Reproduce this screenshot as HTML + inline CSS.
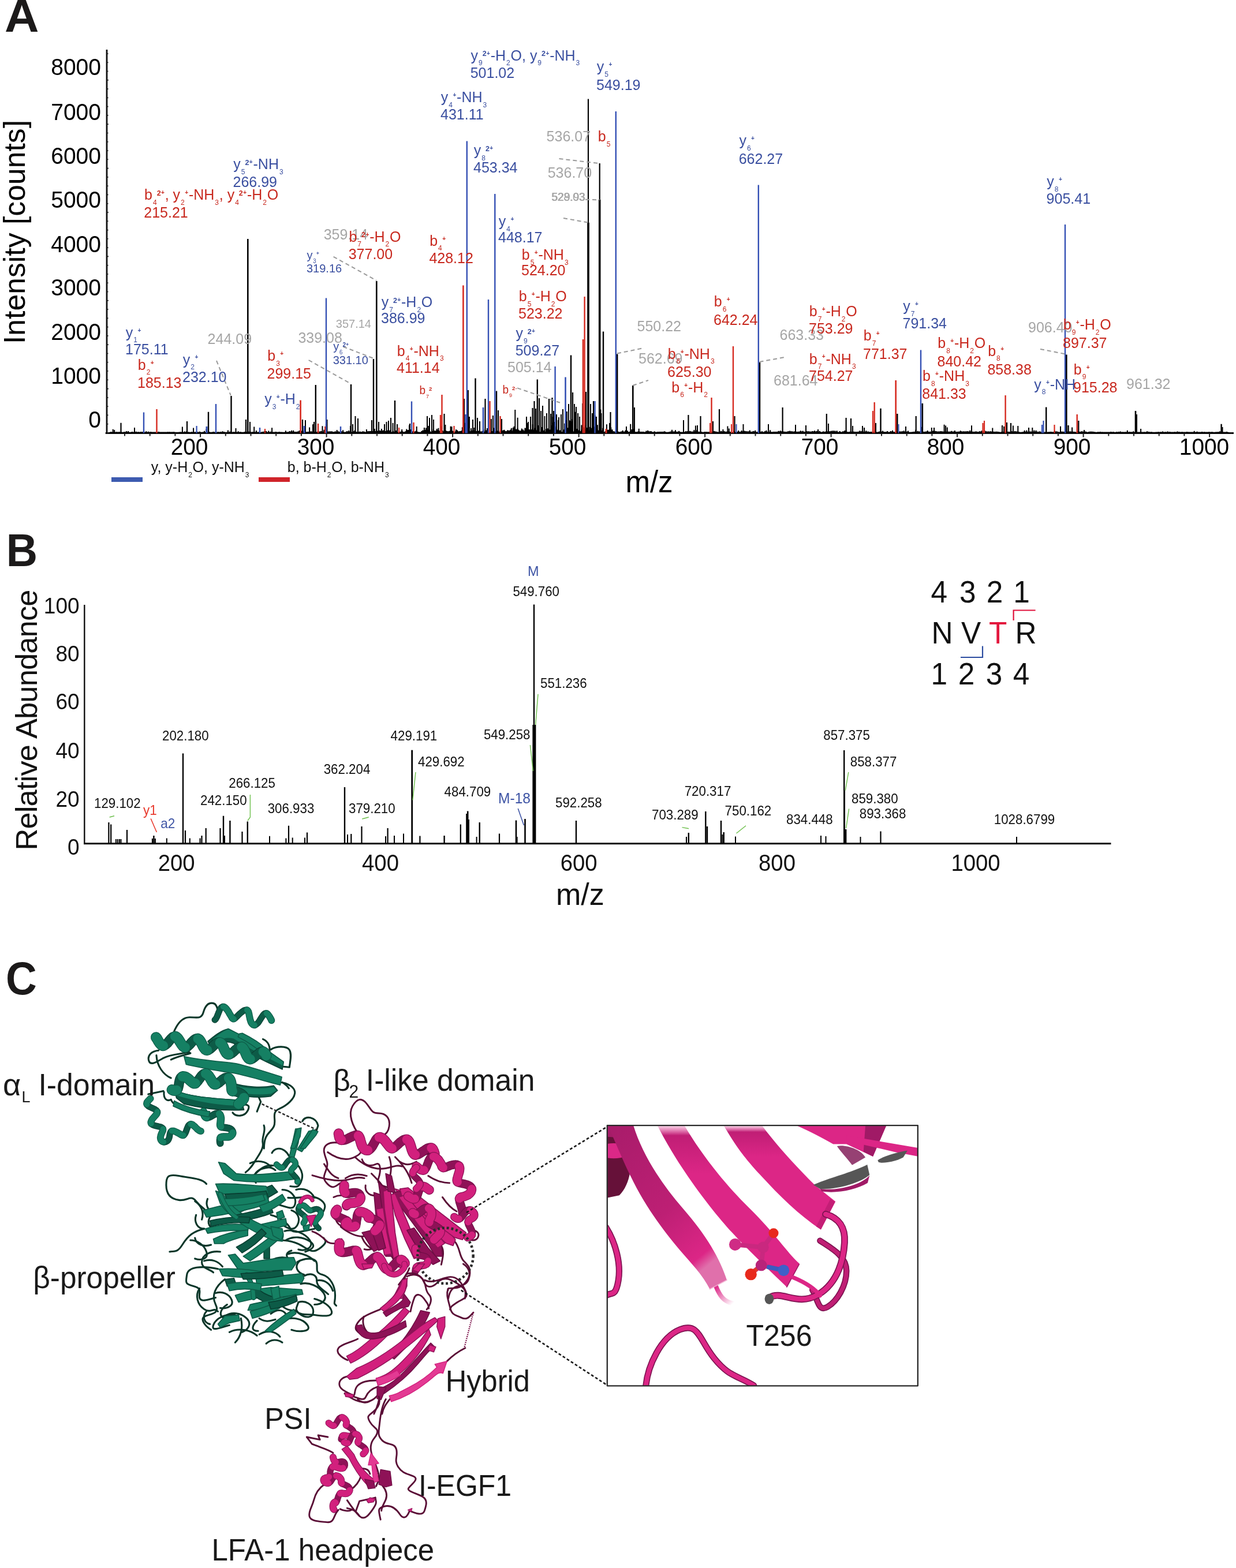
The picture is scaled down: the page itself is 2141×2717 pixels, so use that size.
<!DOCTYPE html>
<html lang="en"><head><meta charset="utf-8"><title>Figure</title>
<style>
html,body{margin:0;padding:0;background:#fff}
body{width:2141px;height:2717px;overflow:hidden}
svg{display:block;font-family:'Liberation Sans', sans-serif}
</style></head>
<body>
<svg width="2141" height="2717" viewBox="0 0 2141 2717">
<rect width="2141" height="2717" fill="#fff"/>
<g id="panelA">
<text transform="translate(7.9,55) scale(1.04,1)" fill="#1c1a1a" font-size="79.2" font-weight="bold">A</text>
<line x1="185" y1="86" x2="185" y2="752" stroke="#111" stroke-width="2.8" />
<line x1="182.7" y1="750.5" x2="2137" y2="750.5" stroke="#111" stroke-width="3" />
<text transform="translate(175,129.9) scale(0.962,1)" fill="#000" font-size="40.56" text-anchor="end" >8000</text>
<text transform="translate(175,207.9) scale(0.962,1)" fill="#000" font-size="40.56" text-anchor="end" >7000</text>
<text transform="translate(175,283.9) scale(0.962,1)" fill="#000" font-size="40.56" text-anchor="end" >6000</text>
<text transform="translate(175,360.4) scale(0.962,1)" fill="#000" font-size="40.56" text-anchor="end" >5000</text>
<text transform="translate(175,436.9) scale(0.962,1)" fill="#000" font-size="40.56" text-anchor="end" >4000</text>
<text transform="translate(175,511.9) scale(0.962,1)" fill="#000" font-size="40.56" text-anchor="end" >3000</text>
<text transform="translate(175,588.9) scale(0.962,1)" fill="#000" font-size="40.56" text-anchor="end" >2000</text>
<text transform="translate(175,664.9) scale(0.962,1)" fill="#000" font-size="40.56" text-anchor="end" >1000</text>
<text transform="translate(175,740.9) scale(0.962,1)" fill="#000" font-size="40.56" text-anchor="end" >0</text>
<path d="M186 750.0h2.0M186 734.7h1.5M186 719.4h1.5M186 704.2h1.5M186 688.9h1.5M186 673.6h2.0M186 658.3h1.5M186 643.0h1.5M186 627.8h1.5M186 612.5h1.5M186 597.2h2.0M186 581.9h1.5M186 566.6h1.5M186 551.4h1.5M186 536.1h1.5M186 520.8h2.0M186 505.5h1.5M186 490.2h1.5M186 475.0h1.5M186 459.7h1.5M186 444.4h2.0M186 429.1h1.5M186 413.8h1.5M186 398.6h1.5M186 383.3h1.5M186 368.0h2.0M186 352.7h1.5M186 337.4h1.5M186 322.2h1.5M186 306.9h1.5M186 291.6h2.0M186 276.3h1.5M186 261.0h1.5M186 245.8h1.5M186 230.5h1.5M186 215.2h2.0M186 199.9h1.5M186 184.6h1.5M186 169.4h1.5M186 154.1h1.5M186 138.8h2.0M186 123.5h1.5M186 108.2h1.5M186 93.0h1.5" stroke="#222" stroke-width="1.6" fill="none"/>
<path d="M216.0 750.5v5M259.7 750.5v5M303.4 750.5v5M347.1 750.5v7M390.8 750.5v5M434.5 750.5v5M478.2 750.5v5M521.9 750.5v5M565.6 750.5v7M609.3 750.5v5M653.0 750.5v5M696.7 750.5v5M740.4 750.5v5M784.1 750.5v7M827.8 750.5v5M871.5 750.5v5M915.2 750.5v5M958.9 750.5v5M1002.6 750.5v7M1046.3 750.5v5M1090.0 750.5v5M1133.7 750.5v5M1177.4 750.5v5M1221.1 750.5v7M1264.8 750.5v5M1308.5 750.5v5M1352.2 750.5v5M1395.9 750.5v5M1439.6 750.5v7M1483.3 750.5v5M1527.0 750.5v5M1570.7 750.5v5M1614.4 750.5v5M1658.1 750.5v7M1701.8 750.5v5M1745.5 750.5v5M1789.2 750.5v5M1832.9 750.5v5M1876.6 750.5v7M1920.3 750.5v5M1964.0 750.5v5M2007.7 750.5v5M2051.4 750.5v5M2095.1 750.5v7" stroke="#222" stroke-width="2" fill="none"/>
<text transform="translate(328,787.6) scale(0.962,1)" fill="#000" font-size="40.35" text-anchor="middle" >200</text>
<text transform="translate(547,787.6) scale(0.962,1)" fill="#000" font-size="40.35" text-anchor="middle" >300</text>
<text transform="translate(765,787.6) scale(0.962,1)" fill="#000" font-size="40.35" text-anchor="middle" >400</text>
<text transform="translate(983,787.6) scale(0.962,1)" fill="#000" font-size="40.35" text-anchor="middle" >500</text>
<text transform="translate(1202,787.6) scale(0.962,1)" fill="#000" font-size="40.35" text-anchor="middle" >600</text>
<text transform="translate(1420,787.6) scale(0.962,1)" fill="#000" font-size="40.35" text-anchor="middle" >700</text>
<text transform="translate(1638,787.6) scale(0.962,1)" fill="#000" font-size="40.35" text-anchor="middle" >800</text>
<text transform="translate(1857,787.6) scale(0.962,1)" fill="#000" font-size="40.35" text-anchor="middle" >900</text>
<text transform="translate(2086,787.6) scale(0.962,1)" fill="#000" font-size="40.35" text-anchor="middle" >1000</text>
<text transform="translate(1124.5,853) scale(0.962,1)" fill="#000" font-size="53.04" text-anchor="middle" >m/z</text>
<text transform="translate(43.3,596) rotate(-90)" font-size="51.6" textLength="388" lengthAdjust="spacing" fill="#000">Intensity [counts]</text>
<rect x="193" y="827" width="54" height="8" fill="#3d5bb0"/>
<rect x="448" y="827" width="54" height="8" fill="#d0242a"/>
<text transform="translate(261,818) scale(0.962,1)" fill="#111" font-size="26.0" ><tspan dx="0.8">y, y-H</tspan><tspan dy="8.6" dx="1.0" font-size="12.5">2</tspan><tspan dy="-8.6" dx="0.8">O, y-NH</tspan><tspan dy="8.6" dx="1.0" font-size="12.5">3</tspan></text>
<text transform="translate(497,818) scale(0.962,1)" fill="#111" font-size="26.0" ><tspan dx="0.8">b, b-H</tspan><tspan dy="8.6" dx="1.0" font-size="12.5">2</tspan><tspan dy="-8.6" dx="0.8">O, b-NH</tspan><tspan dy="8.6" dx="1.0" font-size="12.5">3</tspan></text>
<path d="M190 750.5L190.0 748.5L192.5 748.4L195.7 748.4L198.2 748.4L202.2 748.4L206.6 748.4L209.7 748.5L212.7 748.8L215.3 748.4L218.9 748.4L222.0 748.4L225.8 748.7L228.8 748.4L232.8 748.4L235.7 748.4L239.6 748.4L244.0 748.4L246.6 748.4L249.1 748.4L253.3 748.4L257.1 748.4L261.2 748.4L264.5 748.6L268.2 748.5L272.3 748.6L274.7 748.4L277.4 748.5L280.1 748.6L283.2 748.5L286.7 748.5L290.8 748.4L293.9 748.4L298.2 748.4L301.1 748.4L304.7 748.8L307.8 748.7L312.1 748.4L315.9 748.4L319.9 748.4L323.1 748.4L326.7 748.4L329.4 748.7L331.9 748.4L335.1 748.4L338.7 748.4L341.8 748.4L345.9 748.4L348.5 748.7L351.6 748.6L354.0 748.4L357.4 748.4L361.8 748.4L365.6 748.7L369.6 748.4L373.5 748.4L377.9 748.4L382.0 748.4L385.4 748.4L387.8 748.4L391.6 748.7L394.9 748.4L398.0 748.4L400.9 748.6L405.1 748.4L408.5 748.4L412.7 748.4L416.6 748.4L419.7 748.7L424.0 748.4L427.9 748.4L430.5 748.4L433.2 748.4L437.6 748.4L440.2 748.4L443.9 748.4L448.1 748.4L450.9 748.8L454.5 748.4L457.7 748.4L461.0 748.4L465.2 748.4L468.7 748.4L471.1 748.4L473.9 748.6L477.7 748.4L481.2 748.5L483.8 748.4L487.8 748.5L491.3 748.7L494.9 748.4L498.4 748.4L501.7 747.7L505.1 747.7L508.2 747.7L511.8 748.3L514.0 748.2L516.3 747.7L518.6 747.7L521.9 747.7L524.4 747.7L527.2 747.7L529.6 748.4L532.7 748.2L536.1 747.7L539.0 747.7L542.0 747.7L545.5 748.1L547.7 748.7L550.3 747.7L553.8 747.7L556.2 747.7L558.5 747.7L561.3 747.7L564.9 747.7L567.1 747.7L570.2 747.7L572.8 747.7L575.1 747.7L577.2 748.4L580.7 747.7L583.7 747.7L585.8 747.7L588.9 748.1L591.2 747.7L594.1 747.7L597.1 748.7L601.0 747.7L604.2 747.7L607.0 747.7L609.5 748.5L611.8 747.7L614.4 747.7L617.0 747.9L619.6 748.6L623.4 747.7L626.1 748.5L628.2 747.7L630.6 747.7L632.8 748.7L634.9 747.7L637.5 747.7L640.7 747.1L643.9 747.0L646.0 747.3L648.8 746.3L651.6 747.4L654.7 746.8L657.8 746.3L660.9 746.3L663.8 746.3L665.7 747.1L668.8 747.0L671.6 746.3L673.4 746.3L676.4 746.3L678.4 748.7L680.6 747.0L682.7 747.9L686.0 746.3L688.9 748.7L691.7 748.1L693.9 748.0L696.2 746.3L699.1 748.6L702.0 747.7L704.3 745.0L707.3 745.6L709.0 745.0L711.9 745.0L713.8 748.0L715.8 747.0L718.9 747.8L721.7 745.0L723.7 748.4L726.1 748.5L728.5 748.8L730.3 747.0L732.0 746.1L734.9 745.0L737.9 745.0L740.1 745.0L742.3 745.0L744.4 747.2L746.5 748.3L748.5 748.4L750.7 745.0L753.7 746.8L756.7 745.0L759.4 745.0L762.2 747.0L764.3 745.0L766.6 746.3L768.8 748.1L771.4 745.0L773.9 747.0L775.8 747.4L778.2 747.3L780.6 745.0L782.5 745.0L784.6 747.0L787.5 748.8L790.0 745.0L792.1 746.1L794.0 747.7L796.6 747.1L798.6 746.9L800.9 745.0L802.7 745.0L805.6 745.0L808.6 748.0L811.5 746.1L813.5 748.3L816.1 745.0L818.9 746.7L821.4 745.0L824.4 747.2L826.5 746.9L829.2 746.8L831.0 745.0L833.0 748.1L834.7 747.5L837.3 745.0L839.6 748.5L842.3 746.0L844.0 745.0L846.1 748.7L849.1 748.7L851.4 747.8L853.3 747.0L855.3 745.0L857.5 747.7L860.2 746.4L863.3 746.4L865.6 748.7L868.6 746.6L871.7 745.9L873.4 745.4L876.4 747.4L879.5 745.8L882.5 746.3L884.0 745.4L885.8 743.1L887.2 747.6L888.7 742.6L890.4 740.9L892.3 740.9L894.1 744.9L896.6 740.9L899.0 746.0L901.5 746.8L903.8 743.8L906.3 745.1L908.1 747.6L909.5 743.0L912.0 740.9L913.9 740.9L916.5 744.9L918.5 745.4L920.1 745.2L922.4 740.9L924.2 746.1L925.7 742.9L928.0 740.9L929.8 746.3L932.3 740.9L934.3 748.4L936.2 748.1L938.4 741.7L940.8 747.0L942.6 745.8L944.4 748.5L946.1 744.3L948.6 743.5L951.2 745.9L952.8 745.2L954.4 740.9L956.7 740.9L958.3 740.9L960.9 740.9L963.3 740.9L965.0 745.9L967.1 740.9L968.8 746.2L970.5 746.0L972.7 748.5L974.9 747.8L976.7 745.3L978.1 740.9L980.0 740.9L982.2 745.8L984.0 742.8L986.1 740.9L988.0 740.9L989.6 740.9L991.2 740.9L993.6 748.3L996.1 740.9L998.3 747.8L999.8 744.1L1001.3 744.9L1003.4 746.3L1005.7 747.5L1007.4 742.3L1009.3 742.3L1011.2 742.3L1012.8 744.2L1014.5 742.3L1016.1 742.5L1018.0 743.2L1019.7 748.2L1022.1 742.3L1023.6 746.9L1025.1 742.9L1026.9 744.5L1029.0 742.3L1030.9 742.3L1032.9 747.9L1034.9 742.3L1036.8 746.4L1038.3 746.9L1040.4 742.3L1042.7 746.7L1044.2 743.2L1045.7 748.7L1048.3 747.6L1050.9 742.3L1053.4 745.8L1056.0 742.3L1058.3 742.3L1060.6 747.0L1063.2 747.5L1065.9 748.1L1067.7 748.3L1070.6 747.7L1072.7 748.6L1075.5 747.8L1078.7 747.0L1080.7 747.9L1083.5 747.0L1086.8 747.0L1089.2 748.6L1092.2 747.0L1094.4 747.0L1097.3 747.0L1099.1 747.6L1101.6 748.5L1104.8 747.8L1106.7 747.0L1108.6 747.9L1111.4 747.9L1114.6 747.9L1117.1 748.7L1119.4 747.5L1122.2 747.5L1124.4 747.5L1127.6 747.5L1131.4 748.7L1133.6 747.5L1136.4 748.8L1138.5 748.2L1142.3 748.1L1145.3 747.9L1148.9 748.1L1151.1 747.5L1154.6 748.8L1158.1 748.6L1161.5 747.7L1164.0 747.5L1167.5 747.7L1170.0 747.5L1172.9 748.3L1176.2 747.5L1178.7 748.6L1181.2 748.6L1185.0 748.8L1187.7 747.5L1191.4 747.5L1195.3 747.5L1198.9 747.7L1202.3 747.5L1204.9 747.5L1207.3 747.5L1211.1 747.9L1214.4 748.0L1217.8 748.7L1220.5 748.2L1224.1 748.3L1227.9 748.4L1230.1 747.5L1233.7 748.0L1237.3 747.5L1240.8 747.8L1243.4 748.5L1246.0 748.6L1248.8 747.5L1252.4 747.5L1254.6 747.5L1257.3 747.9L1260.4 747.5L1262.8 747.5L1266.3 748.6L1269.2 748.8L1271.7 747.5L1274.2 748.7L1276.9 748.2L1279.2 747.5L1281.4 748.2L1284.6 747.5L1287.5 747.5L1289.6 747.5L1292.2 747.5L1295.9 747.6L1298.8 747.5L1302.1 748.2L1304.7 747.5L1308.2 747.5L1311.1 748.5L1314.0 747.5L1316.5 748.3L1320.2 747.5L1322.5 748.8L1324.9 747.5L1327.4 747.5L1331.2 748.4L1334.0 747.5L1336.9 748.5L1340.1 747.9L1342.3 748.1L1345.8 748.1L1348.7 747.5L1351.9 747.5L1354.8 747.5L1358.2 747.7L1361.9 748.2L1365.3 747.5L1368.2 747.5L1371.4 747.5L1374.8 747.8L1377.4 747.5L1380.2 747.9L1384.0 747.8L1386.8 747.5L1390.6 747.5L1394.1 748.3L1397.2 747.5L1400.6 747.5L1403.8 747.8L1407.6 747.5L1411.0 747.5L1414.8 747.5L1417.0 747.5L1419.9 747.5L1422.6 748.7L1426.4 747.6L1428.9 748.3L1431.2 747.5L1434.8 747.5L1437.3 747.5L1440.0 747.5L1443.0 747.5L1446.1 747.5L1449.7 747.5L1452.5 748.8L1454.6 747.5L1457.2 748.8L1460.1 747.5L1463.3 747.5L1465.6 747.5L1469.3 748.6L1472.5 747.8L1476.3 748.1L1478.7 747.7L1482.2 748.2L1485.7 748.0L1489.4 747.5L1493.1 747.5L1496.7 748.0L1500.2 747.7L1504.1 747.7L1506.6 748.4L1509.0 747.9L1512.2 748.6L1516.1 747.7L1519.4 748.7L1523.2 747.7L1525.6 747.7L1529.1 747.7L1533.1 748.4L1537.2 747.7L1539.5 748.7L1543.0 747.7L1546.1 747.7L1549.8 748.4L1553.2 747.7L1556.0 748.0L1558.7 747.7L1562.8 747.7L1565.7 747.7L1569.0 747.7L1573.0 747.7L1575.3 748.7L1579.3 748.6L1582.8 748.0L1586.3 747.7L1589.8 747.7L1593.4 747.7L1597.1 747.7L1601.1 748.2L1604.0 747.7L1606.7 747.7L1609.8 748.1L1613.8 747.7L1616.1 747.7L1620.1 747.7L1622.4 747.7L1626.5 747.7L1629.6 747.7L1632.1 747.7L1635.6 747.7L1638.1 747.7L1640.8 747.7L1644.4 747.8L1648.1 747.7L1651.2 747.7L1653.9 747.7L1657.4 748.2L1659.8 747.8L1663.7 747.7L1666.1 747.7L1669.6 747.7L1673.4 747.7L1676.4 747.7L1680.2 747.7L1683.0 747.7L1686.6 748.1L1690.7 747.7L1694.1 748.2L1697.0 747.7L1700.4 747.7L1702.7 747.7L1705.7 747.7L1708.1 747.7L1711.8 747.7L1715.7 747.7L1719.3 747.7L1723.0 748.1L1726.7 747.8L1730.3 748.3L1732.9 748.7L1736.0 747.7L1739.8 748.6L1743.7 747.7L1746.8 747.9L1749.4 748.3L1752.4 747.7L1754.9 747.7L1757.9 747.7L1760.4 747.7L1763.3 747.7L1767.2 748.8L1770.5 748.6L1774.6 747.7L1778.4 747.7L1781.0 748.1L1784.3 747.7L1788.3 747.7L1791.3 747.7L1794.6 747.7L1798.7 748.0L1801.2 747.7L1805.4 748.7L1808.3 748.4L1812.3 748.5L1815.9 748.4L1820.0 748.0L1824.0 748.5L1826.9 747.7L1829.7 747.7L1832.2 747.8L1834.7 748.7L1837.0 747.7L1839.6 747.8L1843.5 748.1L1846.0 748.2L1849.8 747.7L1853.7 747.7L1857.1 747.7L1860.4 747.9L1864.3 748.6L1867.1 747.7L1870.0 747.9L1873.9 747.7L1878.0 747.7L1880.7 747.7L1883.5 748.7L1887.6 747.7L1891.6 747.7L1894.0 748.1L1896.8 748.5L1899.7 748.8L1901.9 748.6L1905.8 748.6L1909.1 748.6L1913.8 748.6L1917.0 748.6L1921.0 748.6L1924.3 748.6L1928.5 748.6L1931.5 748.7L1934.4 748.6L1938.0 748.6L1940.8 748.6L1944.8 748.6L1949.6 748.6L1952.8 748.6L1956.6 748.6L1959.7 748.6L1963.3 748.6L1967.0 748.8L1972.1 748.6L1976.1 748.6L1979.5 748.6L1982.5 748.6L1987.0 748.6L1989.8 748.6L1994.3 748.6L1999.2 748.7L2003.2 748.6L2006.7 748.6L2010.9 748.6L2014.0 748.6L2018.8 748.6L2022.6 748.6L2026.3 748.6L2031.0 748.6L2034.8 748.6L2039.5 748.6L2042.5 748.6L2047.6 748.6L2051.9 748.6L2056.0 748.6L2058.8 748.6L2063.9 748.6L2068.7 748.6L2073.6 748.6L2078.0 748.6L2082.1 748.6L2086.2 748.6L2091.3 748.6L2094.4 748.6L2099.5 748.6L2103.5 748.7L2106.6 748.6L2110.1 748.6L2113.1 748.6L2117.3 748.6L2120.6 748.6L2124.9 748.6L2128.4 748.8L2130 750.5Z" fill="#000" stroke="none"/>
<path d="M190.0 750.5v-1.6M192.5 750.5v-1.9M195.7 750.5v-6.7M198.2 750.5v-5.6M202.2 750.5v-1.9M206.6 750.5v-1.9M209.7 750.5v-1.6M212.7 750.5v-1.3M215.3 750.5v-2.1M218.9 750.5v-3.6M222.0 750.5v-3.5M225.8 750.5v-1.3M228.8 750.5v-2.5M232.8 750.5v-2.0M235.7 750.5v-2.7M239.6 750.5v-2.0M244.0 750.5v-2.3M246.6 750.5v-2.2M249.1 750.5v-2.4M253.3 750.5v-3.3M257.1 750.5v-2.7M261.2 750.5v-2.2M264.5 750.5v-1.5M268.2 750.5v-1.6M272.3 750.5v-1.5M274.7 750.5v-2.5M277.4 750.5v-1.6M280.1 750.5v-1.5M283.2 750.5v-1.6M286.7 750.5v-1.6M290.8 750.5v-1.9M293.9 750.5v-2.1M298.2 750.5v-1.7M301.1 750.5v-1.9M304.7 750.5v-1.2M307.8 750.5v-1.3M312.1 750.5v-1.8M315.9 750.5v-10.9M319.9 750.5v-3.0M323.1 750.5v-3.0M326.7 750.5v-1.7M329.4 750.5v-1.4M331.9 750.5v-2.0M335.1 750.5v-9.1M338.7 750.5v-1.8M341.8 750.5v-2.1M345.9 750.5v-2.8M348.5 750.5v-1.3M351.6 750.5v-1.4M354.0 750.5v-3.8M357.4 750.5v-7.0M361.8 750.5v-2.6M365.6 750.5v-1.3M369.6 750.5v-2.5M373.5 750.5v-1.7M377.9 750.5v-2.1M382.0 750.5v-2.2M385.4 750.5v-3.3M387.8 750.5v-2.3M391.6 750.5v-1.4M394.9 750.5v-5.0M398.0 750.5v-2.8M400.9 750.5v-1.5M405.1 750.5v-2.1M408.5 750.5v-8.6M412.7 750.5v-3.3M416.6 750.5v-2.1M419.7 750.5v-1.3M424.0 750.5v-2.3M427.9 750.5v-2.1M430.5 750.5v-3.0M433.2 750.5v-3.7M437.6 750.5v-1.9M440.2 750.5v-11.0M443.9 750.5v-4.4M448.1 750.5v-1.7M450.9 750.5v-1.2M454.5 750.5v-2.4M457.7 750.5v-3.3M461.0 750.5v-3.5M465.2 750.5v-3.9M468.7 750.5v-2.7M471.1 750.5v-9.2M473.9 750.5v-1.5M477.7 750.5v-2.4M481.2 750.5v-1.6M483.8 750.5v-2.2M487.8 750.5v-1.6M491.3 750.5v-1.4M494.9 750.5v-4.3M498.4 750.5v-1.7M501.7 750.5v-3.4M505.1 750.5v-4.8M508.2 750.5v-4.7M511.8 750.5v-1.9M514.0 750.5v-2.0M516.3 750.5v-3.0M518.6 750.5v-4.4M521.9 750.5v-3.9M524.4 750.5v-4.6M527.2 750.5v-7.5M529.6 750.5v-1.7M532.7 750.5v-1.9M536.1 750.5v-10.1M539.0 750.5v-3.1M542.0 750.5v-15.2M545.5 750.5v-2.2M547.7 750.5v-1.4M550.3 750.5v-2.7M553.8 750.5v-2.8M556.2 750.5v-3.6M558.5 750.5v-12.2M561.3 750.5v-5.7M564.9 750.5v-15.4M567.1 750.5v-2.7M570.2 750.5v-3.0M572.8 750.5v-3.0M575.1 750.5v-3.1M577.2 750.5v-1.7M580.7 750.5v-2.9M583.7 750.5v-5.6M585.8 750.5v-2.9M588.9 750.5v-2.1M591.2 750.5v-3.4M594.1 750.5v-5.2M597.1 750.5v-1.3M601.0 750.5v-3.4M604.2 750.5v-4.5M607.0 750.5v-12.6M609.5 750.5v-1.6M611.8 750.5v-3.5M614.4 750.5v-4.8M617.0 750.5v-2.4M619.6 750.5v-1.5M623.4 750.5v-2.7M626.1 750.5v-1.7M628.2 750.5v-3.0M630.6 750.5v-2.8M632.8 750.5v-1.3M634.9 750.5v-6.4M637.5 750.5v-3.4M640.7 750.5v-3.4M643.9 750.5v-3.6M646.0 750.5v-3.2M648.8 750.5v-7.6M651.6 750.5v-3.0M654.7 750.5v-3.9M657.8 750.5v-4.5M660.9 750.5v-7.6M663.8 750.5v-4.9M665.7 750.5v-3.4M668.8 750.5v-3.7M671.6 750.5v-4.9M673.4 750.5v-5.0M676.4 750.5v-5.5M678.4 750.5v-1.3M680.6 750.5v-3.7M682.7 750.5v-2.4M686.0 750.5v-4.6M688.9 750.5v-1.3M691.7 750.5v-2.1M693.9 750.5v-2.3M696.2 750.5v-6.5M699.1 750.5v-1.4M702.0 750.5v-2.7M704.3 750.5v-6.9M707.3 750.5v-5.4M709.0 750.5v-14.1M711.9 750.5v-6.4M713.8 750.5v-2.3M715.8 750.5v-3.6M718.9 750.5v-2.5M721.7 750.5v-11.4M723.7 750.5v-1.8M726.1 750.5v-1.6M728.5 750.5v-1.3M730.3 750.5v-3.6M732.0 750.5v-4.7M734.9 750.5v-9.4M737.9 750.5v-8.9M740.1 750.5v-15.2M742.3 750.5v-12.4M744.4 750.5v-3.4M746.5 750.5v-1.9M748.5 750.5v-1.8M750.7 750.5v-7.0M753.7 750.5v-3.8M756.7 750.5v-7.6M759.4 750.5v-8.8M762.2 750.5v-3.6M764.3 750.5v-11.9M766.6 750.5v-4.6M768.8 750.5v-2.1M771.4 750.5v-14.6M773.9 750.5v-3.5M775.8 750.5v-3.0M778.2 750.5v-3.2M780.6 750.5v-11.7M782.5 750.5v-11.2M784.6 750.5v-3.6M787.5 750.5v-1.2M790.0 750.5v-6.3M792.1 750.5v-4.9M794.0 750.5v-2.7M796.6 750.5v-3.4M798.6 750.5v-3.8M800.9 750.5v-10.3M802.7 750.5v-22.4M805.6 750.5v-17.8M808.6 750.5v-2.3M811.5 750.5v-4.8M813.5 750.5v-1.8M816.1 750.5v-8.5M818.9 750.5v-4.0M821.4 750.5v-9.5M824.4 750.5v-3.3M826.5 750.5v-3.8M829.2 750.5v-3.9M831.0 750.5v-7.6M833.0 750.5v-2.2M834.7 750.5v-2.9M837.3 750.5v-6.4M839.6 750.5v-1.6M842.3 750.5v-4.9M844.0 750.5v-8.5M846.1 750.5v-1.3M849.1 750.5v-1.4M851.4 750.5v-2.5M853.3 750.5v-3.5M855.3 750.5v-8.9M857.5 750.5v-2.7M860.2 750.5v-4.4M863.3 750.5v-4.4M865.6 750.5v-1.3M868.6 750.5v-4.2M871.7 750.5v-5.1M873.4 750.5v-5.8M876.4 750.5v-3.0M879.5 750.5v-5.2M882.5 750.5v-4.6M884.0 750.5v-5.7M885.8 750.5v-8.8M887.2 750.5v-2.8M888.7 750.5v-9.5M890.4 750.5v-11.7M892.3 750.5v-40.5M894.1 750.5v-6.4M896.6 750.5v-26.7M899.0 750.5v-4.9M901.5 750.5v-3.8M903.8 750.5v-7.9M906.3 750.5v-6.1M908.1 750.5v-2.9M909.5 750.5v-9.0M912.0 750.5v-28.6M913.9 750.5v-17.5M916.5 750.5v-6.4M918.5 750.5v-5.7M920.1 750.5v-6.0M922.4 750.5v-15.3M924.2 750.5v-4.9M925.7 750.5v-9.0M928.0 750.5v-31.6M929.8 750.5v-4.5M932.3 750.5v-13.6M934.3 750.5v-1.7M936.2 750.5v-2.1M938.4 750.5v-10.6M940.8 750.5v-3.6M942.6 750.5v-5.2M944.4 750.5v-1.7M946.1 750.5v-7.2M948.6 750.5v-8.3M951.2 750.5v-5.0M952.8 750.5v-6.0M954.4 750.5v-13.6M956.7 750.5v-28.2M958.3 750.5v-18.2M960.9 750.5v-19.4M963.3 750.5v-11.7M965.0 750.5v-5.0M967.1 750.5v-22.8M968.8 750.5v-4.6M970.5 750.5v-4.9M972.7 750.5v-1.6M974.9 750.5v-2.5M976.7 750.5v-5.9M978.1 750.5v-16.7M980.0 750.5v-22.6M982.2 750.5v-5.2M984.0 750.5v-9.2M986.1 750.5v-22.3M988.0 750.5v-21.4M989.6 750.5v-24.3M991.2 750.5v-20.8M993.6 750.5v-1.9M996.1 750.5v-36.8M998.3 750.5v-2.5M999.8 750.5v-7.5M1001.3 750.5v-6.3M1003.4 750.5v-4.5M1005.7 750.5v-2.9M1007.4 750.5v-14.1M1009.3 750.5v-51.4M1011.2 750.5v-10.0M1012.8 750.5v-7.3M1014.5 750.5v-13.5M1016.1 750.5v-9.6M1018.0 750.5v-8.7M1019.7 750.5v-2.0M1022.1 750.5v-10.8M1023.6 750.5v-3.7M1025.1 750.5v-9.1M1026.9 750.5v-6.9M1029.0 750.5v-11.3M1030.9 750.5v-31.0M1032.9 750.5v-2.4M1034.9 750.5v-14.2M1036.8 750.5v-4.4M1038.3 750.5v-3.7M1040.4 750.5v-41.1M1042.7 750.5v-4.0M1044.2 750.5v-8.7M1045.7 750.5v-1.4M1048.3 750.5v-2.8M1050.9 750.5v-15.3M1053.4 750.5v-5.2M1056.0 750.5v-17.6M1058.3 750.5v-10.1M1060.6 750.5v-6.2M1063.2 750.5v-2.9M1065.9 750.5v-2.1M1067.7 750.5v-1.9M1070.6 750.5v-2.7M1072.7 750.5v-1.5M1075.5 750.5v-2.6M1078.7 750.5v-4.7M1080.7 750.5v-2.5M1083.5 750.5v-5.1M1086.8 750.5v-4.3M1089.2 750.5v-1.5M1092.2 750.5v-15.7M1094.4 750.5v-6.4M1097.3 750.5v-7.4M1099.1 750.5v-2.8M1101.6 750.5v-1.5M1104.8 750.5v-2.6M1106.7 750.5v-7.7M1108.6 750.5v-2.4M1111.4 750.5v-2.4M1114.6 750.5v-2.4M1117.1 750.5v-1.4M1119.4 750.5v-4.1M1122.2 750.5v-4.7M1124.4 750.5v-3.0M1127.6 750.5v-3.5M1131.4 750.5v-1.4M1133.6 750.5v-2.9M1136.4 750.5v-1.3M1138.5 750.5v-2.0M1142.3 750.5v-2.1M1145.3 750.5v-2.4M1148.9 750.5v-2.1M1151.1 750.5v-2.9M1154.6 750.5v-1.3M1158.1 750.5v-1.4M1161.5 750.5v-2.7M1164.0 750.5v-5.7M1167.5 750.5v-2.7M1170.0 750.5v-5.3M1172.9 750.5v-1.9M1176.2 750.5v-3.8M1178.7 750.5v-1.5M1181.2 750.5v-1.5M1185.0 750.5v-1.2M1187.7 750.5v-3.2M1191.4 750.5v-3.5M1195.3 750.5v-3.7M1198.9 750.5v-2.6M1202.3 750.5v-5.4M1204.9 750.5v-12.9M1207.3 750.5v-5.5M1211.1 750.5v-2.4M1214.4 750.5v-2.2M1217.8 750.5v-1.3M1220.5 750.5v-2.0M1224.1 750.5v-1.8M1227.9 750.5v-1.7M1230.1 750.5v-11.7M1233.7 750.5v-2.2M1237.3 750.5v-3.6M1240.8 750.5v-2.6M1243.4 750.5v-1.6M1246.0 750.5v-1.4M1248.8 750.5v-3.7M1252.4 750.5v-6.4M1254.6 750.5v-3.2M1257.3 750.5v-2.4M1260.4 750.5v-12.0M1262.8 750.5v-8.0M1266.3 750.5v-1.4M1269.2 750.5v-1.2M1271.7 750.5v-3.3M1274.2 750.5v-1.3M1276.9 750.5v-2.0M1279.2 750.5v-4.6M1281.4 750.5v-2.0M1284.6 750.5v-4.6M1287.5 750.5v-15.6M1289.6 750.5v-4.1M1292.2 750.5v-3.3M1295.9 750.5v-2.7M1298.8 750.5v-4.9M1302.1 750.5v-1.9M1304.7 750.5v-3.6M1308.2 750.5v-4.8M1311.1 750.5v-1.6M1314.0 750.5v-4.1M1316.5 750.5v-1.9M1320.2 750.5v-3.0M1322.5 750.5v-1.2M1324.9 750.5v-3.2M1327.4 750.5v-4.8M1331.2 750.5v-1.8M1334.0 750.5v-5.2M1336.9 750.5v-1.6M1340.1 750.5v-2.4M1342.3 750.5v-2.1M1345.8 750.5v-2.1M1348.7 750.5v-3.7M1351.9 750.5v-4.2M1354.8 750.5v-3.3M1358.2 750.5v-2.6M1361.9 750.5v-2.0M1365.3 750.5v-3.2M1368.2 750.5v-3.9M1371.4 750.5v-3.1M1374.8 750.5v-2.5M1377.4 750.5v-3.4M1380.2 750.5v-2.3M1384.0 750.5v-2.5M1386.8 750.5v-4.2M1390.6 750.5v-3.9M1394.1 750.5v-1.9M1397.2 750.5v-3.6M1400.6 750.5v-2.9M1403.8 750.5v-2.5M1407.6 750.5v-3.6M1411.0 750.5v-4.2M1414.8 750.5v-3.6M1417.0 750.5v-6.6M1419.9 750.5v-3.4M1422.6 750.5v-1.4M1426.4 750.5v-2.8M1428.9 750.5v-1.9M1431.2 750.5v-3.3M1434.8 750.5v-2.9M1437.3 750.5v-3.1M1440.0 750.5v-3.9M1443.0 750.5v-4.4M1446.1 750.5v-4.2M1449.7 750.5v-4.2M1452.5 750.5v-1.3M1454.6 750.5v-3.6M1457.2 750.5v-1.3M1460.1 750.5v-3.1M1463.3 750.5v-4.5M1465.6 750.5v-5.1M1469.3 750.5v-1.5M1472.5 750.5v-2.5M1476.3 750.5v-2.1M1478.7 750.5v-2.6M1482.2 750.5v-1.9M1485.7 750.5v-2.3M1489.4 750.5v-4.2M1493.1 750.5v-3.7M1496.7 750.5v-2.3M1500.2 750.5v-4.3M1504.1 750.5v-2.7M1506.6 750.5v-1.8M1509.0 750.5v-2.3M1512.2 750.5v-1.4M1516.1 750.5v-5.2M1519.4 750.5v-1.4M1523.2 750.5v-2.7M1525.6 750.5v-2.7M1529.1 750.5v-4.0M1533.1 750.5v-1.7M1537.2 750.5v-3.6M1539.5 750.5v-1.4M1543.0 750.5v-3.4M1546.1 750.5v-4.7M1549.8 750.5v-1.7M1553.2 750.5v-3.4M1556.0 750.5v-2.2M1558.7 750.5v-3.1M1562.8 750.5v-3.3M1565.7 750.5v-4.3M1569.0 750.5v-11.6M1573.0 750.5v-4.0M1575.3 750.5v-1.3M1579.3 750.5v-1.4M1582.8 750.5v-2.3M1586.3 750.5v-5.7M1589.8 750.5v-3.8M1593.4 750.5v-3.0M1597.1 750.5v-10.8M1601.1 750.5v-2.0M1604.0 750.5v-2.8M1606.7 750.5v-4.5M1609.8 750.5v-2.1M1613.8 750.5v-9.5M1616.1 750.5v-4.0M1620.1 750.5v-3.8M1622.4 750.5v-3.3M1626.5 750.5v-3.0M1629.6 750.5v-3.6M1632.1 750.5v-3.1M1635.6 750.5v-14.7M1638.1 750.5v-12.9M1640.8 750.5v-9.9M1644.4 750.5v-2.5M1648.1 750.5v-3.8M1651.2 750.5v-2.7M1653.9 750.5v-4.6M1657.4 750.5v-1.9M1659.8 750.5v-2.5M1663.7 750.5v-4.3M1666.1 750.5v-3.0M1669.6 750.5v-3.2M1673.4 750.5v-3.2M1676.4 750.5v-3.5M1680.2 750.5v-4.7M1683.0 750.5v-13.2M1686.6 750.5v-2.1M1690.7 750.5v-2.9M1694.1 750.5v-2.0M1697.0 750.5v-3.3M1700.4 750.5v-4.2M1702.7 750.5v-3.5M1705.7 750.5v-4.5M1708.1 750.5v-3.2M1711.8 750.5v-3.0M1715.7 750.5v-3.2M1719.3 750.5v-9.0M1723.0 750.5v-2.2M1726.7 750.5v-2.6M1730.3 750.5v-1.8M1732.9 750.5v-1.3M1736.0 750.5v-13.6M1739.8 750.5v-1.5M1743.7 750.5v-3.9M1746.8 750.5v-2.4M1749.4 750.5v-1.9M1752.4 750.5v-3.2M1754.9 750.5v-13.0M1757.9 750.5v-3.5M1760.4 750.5v-3.0M1763.3 750.5v-12.5M1767.2 750.5v-1.3M1770.5 750.5v-1.5M1774.6 750.5v-4.8M1778.4 750.5v-5.0M1781.0 750.5v-2.1M1784.3 750.5v-2.8M1788.3 750.5v-9.5M1791.3 750.5v-5.1M1794.6 750.5v-4.8M1798.7 750.5v-2.2M1801.2 750.5v-3.0M1805.4 750.5v-1.3M1808.3 750.5v-1.8M1812.3 750.5v-1.5M1815.9 750.5v-1.8M1820.0 750.5v-2.3M1824.0 750.5v-1.6M1826.9 750.5v-4.2M1829.7 750.5v-3.1M1832.2 750.5v-2.5M1834.7 750.5v-1.3M1837.0 750.5v-11.7M1839.6 750.5v-2.6M1843.5 750.5v-2.1M1846.0 750.5v-1.9M1849.8 750.5v-2.8M1853.7 750.5v-2.9M1857.1 750.5v-10.0M1860.4 750.5v-2.4M1864.3 750.5v-1.4M1867.1 750.5v-3.4M1870.0 750.5v-2.4M1873.9 750.5v-3.3M1878.0 750.5v-5.4M1880.7 750.5v-2.8M1883.5 750.5v-1.3M1887.6 750.5v-2.6M1891.6 750.5v-2.6M1894.0 750.5v-2.2M1896.8 750.5v-1.6M1899.7 750.5v-1.3M1901.9 750.5v-1.9M1905.8 750.5v-2.4M1909.1 750.5v-1.8M1913.8 750.5v-1.5M1917.0 750.5v-1.6M1921.0 750.5v-1.4M1924.3 750.5v-2.5M1928.5 750.5v-2.3M1931.5 750.5v-1.3M1934.4 750.5v-2.3M1938.0 750.5v-2.4M1940.8 750.5v-3.1M1944.8 750.5v-1.8M1949.6 750.5v-1.8M1952.8 750.5v-4.8M1956.6 750.5v-2.3M1959.7 750.5v-1.7M1963.3 750.5v-3.2M1967.0 750.5v-1.2M1972.1 750.5v-1.6M1976.1 750.5v-7.4M1979.5 750.5v-1.5M1982.5 750.5v-1.7M1987.0 750.5v-3.3M1989.8 750.5v-2.4M1994.3 750.5v-2.1M1999.2 750.5v-1.3M2003.2 750.5v-1.5M2006.7 750.5v-2.0M2010.9 750.5v-2.0M2014.0 750.5v-2.9M2018.8 750.5v-2.0M2022.6 750.5v-3.1M2026.3 750.5v-2.2M2031.0 750.5v-1.6M2034.8 750.5v-1.9M2039.5 750.5v-3.0M2042.5 750.5v-2.3M2047.6 750.5v-2.0M2051.9 750.5v-1.5M2056.0 750.5v-2.3M2058.8 750.5v-1.7M2063.9 750.5v-1.6M2068.7 750.5v-3.8M2073.6 750.5v-2.8M2078.0 750.5v-1.5M2082.1 750.5v-2.6M2086.2 750.5v-1.9M2091.3 750.5v-1.4M2094.4 750.5v-2.1M2099.5 750.5v-2.1M2103.5 750.5v-1.3M2106.6 750.5v-1.8M2110.1 750.5v-1.9M2113.1 750.5v-3.3M2117.3 750.5v-1.8M2120.6 750.5v-1.5M2124.9 750.5v-2.4M2128.4 750.5v-1.2" stroke="#000" stroke-width="2" fill="none"/>
<path d="M209.5 750.5V732.7M324 750.5V730M426 750.5V727M524 750.5V727M769.5 750.5V717M804 750.5V691M810.8 750.5V676M840.5 750.5V691M922.5 750.5V707M925.5 750.5V695M934 750.5V690M951 750.5V691M956.5 750.5V689M992 750.5V680M1019 750.5V171.6M1028 750.5V695M1038.7 750.5V283M1057.5 750.5V714M1192.4 750.5V719M1213.5 750.5V721M1246 750.5V709M1272.5 750.5V721M1355.6 750.5V706M1431.8 750.5V717M1465.6 750.5V724M1474 750.5V725M1586.7 750.5V721M1744 750.5V732M1751 750.5V733M1868.3 750.5V729" stroke="#000" stroke-width="2.2" fill="none"/>
<path d="M233 750.5V741M433 750.5V731M529 750.5V728M544 750.5V731M566.5 750.5V727M615.5 750.5V721M620 750.5V725M611 750.5V735M644 750.5V728M656 750.5V731M666 750.5V735M669.5 750.5V731M673 750.5V729M677 750.5V724M680.5 750.5V733M688 750.5V735M710 750.5V734M740 750.5V721M744 750.5V724M748 750.5V719M751 750.5V727M813 750.5V722M819 750.5V727M827 750.5V724M831 750.5V730M851 750.5V726M854 750.5V720M863 750.5V711M869 750.5V726M915 750.5V731M919 750.5V722M928 750.5V708M937 750.5V712M940 750.5V703M943.5 750.5V721M947 750.5V716M954 750.5V717M959 750.5V712M964 750.5V718M968 750.5V723M972 750.5V718M975 750.5V709M982 750.5V713M985 750.5V700M995 750.5V700M998 750.5V705M1001 750.5V716M1004 750.5V722M1023 750.5V700M1026 750.5V716M1033 750.5V722M1041.5 750.5V716M1099 750.5V706M1085 750.5V739M1184 750.5V728M1208 750.5V737M1235 750.5V730M1331 750.5V735M1378 750.5V736M1396 750.5V737M1435 750.5V734M1477 750.5V738M1494 750.5V738M1497 750.5V741M1517 750.5V733M1618 750.5V741M1739 750.5V739M1782 750.5V741M1969 750.5V718M2117.5 750.5V740" stroke="#000" stroke-width="2" fill="none"/>
<path d="M361 750.5V713.7M400.5 750.5V686M546.8 750.5V667M608 750.5V666M647 750.5V622M684 750.5V694M823.5 750.5V655.5M860 750.5V677.5M930.8 750.5V657.6M989 750.5V615.5M1015 750.5V679M1045 750.5V574.6M1069.2 750.5V613.4M1316 750.5V628M1525.5 750.5V707.7M1554.3 750.5V717M1812.2 750.5V705.6M1850.5 750.5V737M2115.6 750.5V734.7" stroke="#000" stroke-width="2.4" fill="none"/>
<path d="M429.3 750.5V414M652.3 750.5V487M1096.3 750.5V668M1597.8 750.5V699M1847.3 750.5V614.4M1967 750.5V712" stroke="#000" stroke-width="2.6" fill="none"/>
<path d="M1019 750.5V385.7M1038.7 750.5V346" stroke="#000" stroke-width="3.6" fill="none"/>
<path d="M249 750.5V714.6M374 750.5V700M565 750.5V516.4M713 750.5V695.6M806.5 750.5V718M808.8 750.5V244.5M846 750.5V519M857.3 750.5V336M961.6 750.5V635M1030.5 750.5V695M1066.8 750.5V193M1313.8 750.5V320.4M1595 750.5V606.4M1845 750.5V389" stroke="#3450b4" stroke-width="2.4" fill="none"/>
<path d="M271.5 750.5V709M716.5 750.5V732M763 750.5V719M765.5 750.5V684M848.5 750.5V695M866.5 750.5V721M1012.6 750.5V514M1232.5 750.5V689M1270 750.5V600M1514.7 750.5V697M1741.6 750.5V685M1865.7 750.5V718" stroke="#d62a20" stroke-width="2.4" fill="none"/>
<path d="M340.6 750.5V738M1805 750.5V736M1807.5 750.5V729" stroke="#3450b4" stroke-width="2.2" fill="none"/>
<path d="M358 750.5V739M527 750.5V738" stroke="#3450b4" stroke-width="3" fill="none"/>
<path d="M450 750.5V741M590 750.5V739" stroke="#3450b4" stroke-width="2.5" fill="none"/>
<path d="M459 750.5V743M563 750.5V739M1230 750.5V733M1267 750.5V735" stroke="#d62a20" stroke-width="2" fill="none"/>
<path d="M520.6 750.5V693.5M802.4 750.5V494.5M1010 750.5V588M1551.7 750.5V659" stroke="#d62a20" stroke-width="2.6" fill="none"/>
<path d="M551 750.5V734" stroke="#d62a20" stroke-width="2.5" fill="none"/>
<path d="M691 750.5V741M786.5 750.5V738M1512 750.5V712M1702.5 750.5V733M1705 750.5V729M1826.5 750.5V736" stroke="#d62a20" stroke-width="2.2" fill="none"/>
<path d="M837 750.5V706M979.5 750.5V653.4" stroke="#3450b4" stroke-width="2.6" fill="none"/>
<path d="M1050 750.5V743" stroke="#d62a20" stroke-width="3" fill="none"/>
<path d="M1275.5 750.5V735M1556.5 750.5V735" stroke="#3450b4" stroke-width="2" fill="none"/>
<path d="M577.6 444.8L652 486M375 625L399.7 685M534.6 624L608 665M594.4 600.7L647 621M968.5 275L1037 283M1014 345.7L1039 346.5M976 378L1019 385.7M896 672.4L970 697.7M1069 612.5L1115 603M1096 668L1123 659M1315.5 627L1362 618.5M1802 605L1846.3 613.6" stroke="#9a9a9a" stroke-width="2" stroke-dasharray="7 5" fill="none"/>
<text transform="translate(560.7,415) scale(0.962,1)" fill="#a6a6a6" font-size="26.0" >359.14</text>
<text transform="translate(581.8,568) scale(0.962,1)" fill="#a6a6a6" font-size="20.8" >357.14</text>
<text transform="translate(359.6,595.7) scale(0.962,1)" fill="#a6a6a6" font-size="26.0" >244.09</text>
<text transform="translate(516.4,593.6) scale(0.962,1)" fill="#a6a6a6" font-size="26.0" >339.08</text>
<text transform="translate(946.6,245.4) scale(0.962,1)" fill="#a6a6a6" font-size="26.0" >536.07</text>
<text transform="translate(948.7,307.8) scale(0.962,1)" fill="#a6a6a6" font-size="26.0" >536.70</text>
<text transform="translate(955,347.8) scale(0.962,1)" fill="#a6a6a6" font-size="19.76" >528.03</text>
<text transform="translate(956,347.8) scale(0.962,1)" fill="#a6a6a6" font-size="19.76" >529.93</text>
<text transform="translate(879,645) scale(0.962,1)" fill="#a6a6a6" font-size="26.0" >505.14</text>
<text transform="translate(1103.5,574) scale(0.962,1)" fill="#a6a6a6" font-size="26.0" >550.22</text>
<text transform="translate(1106,630) scale(0.962,1)" fill="#a6a6a6" font-size="26.0" >562.69</text>
<text transform="translate(1350.5,589) scale(0.962,1)" fill="#a6a6a6" font-size="26.0" >663.33</text>
<text transform="translate(1340,668) scale(0.962,1)" fill="#a6a6a6" font-size="26.0" >681.64</text>
<text transform="translate(1781,575.6) scale(0.962,1)" fill="#a6a6a6" font-size="26.0" >906.40</text>
<text transform="translate(1951,673.6) scale(0.962,1)" fill="#a6a6a6" font-size="26.0" >961.32</text>
<text transform="translate(403.5,293) scale(0.962,1)" fill="#3a4fa0" font-size="26.0" ><tspan dx="0.8">y</tspan><tspan dy="8.6" dx="1.0" font-size="12.5">5</tspan><tspan dy="-16.1" font-size="13.0" font-weight="bold">2</tspan><tspan dy="-1.56" dx="0.5" font-size="10.5" font-weight="bold">+</tspan><tspan dy="9.06" dx="0.8">-NH</tspan><tspan dy="8.6" dx="1.0" font-size="12.5">3</tspan></text>
<text transform="translate(403.5,324) scale(0.962,1)" fill="#3a4fa0" font-size="26.0" >266.99</text>
<text transform="translate(249.3,346.3) scale(0.962,1)" fill="#c8281e" font-size="26.0" ><tspan dx="0.8">b</tspan><tspan dy="8.6" dx="1.0" font-size="12.5">4</tspan><tspan dy="-16.1" font-size="13.0" font-weight="bold">2</tspan><tspan dy="-1.56" dx="0.5" font-size="10.5" font-weight="bold">+</tspan><tspan dy="9.06" dx="0.8">, y</tspan><tspan dy="8.6" dx="1.0" font-size="12.5">2</tspan><tspan dy="-17.66" dx="0.5" font-size="10.5" font-weight="bold">+</tspan><tspan dy="9.06" dx="0.8">-NH</tspan><tspan dy="8.6" dx="1.0" font-size="12.5">3</tspan><tspan dy="-8.6" dx="0.8">, y</tspan><tspan dy="8.6" dx="1.0" font-size="12.5">4</tspan><tspan dy="-16.1" font-size="13.0" font-weight="bold">2</tspan><tspan dy="-1.56" dx="0.5" font-size="10.5" font-weight="bold">+</tspan><tspan dy="9.06" dx="0.8">-H</tspan><tspan dy="8.6" dx="1.0" font-size="12.5">2</tspan><tspan dy="-8.6" dx="0.8">O</tspan></text>
<text transform="translate(249.3,376.8) scale(0.962,1)" fill="#c8281e" font-size="26.0" >215.21</text>
<text transform="translate(603.7,418.6) scale(0.962,1)" fill="#c8281e" font-size="26.0" ><tspan dx="0.8">b</tspan><tspan dy="8.6" dx="1.0" font-size="12.5">7</tspan><tspan dy="-16.1" font-size="13.0" font-weight="bold">2</tspan><tspan dy="-1.56" dx="0.5" font-size="10.5" font-weight="bold">+</tspan><tspan dy="9.06" dx="0.8">-H</tspan><tspan dy="8.6" dx="1.0" font-size="12.5">2</tspan><tspan dy="-8.6" dx="0.8">O</tspan></text>
<text transform="translate(603.7,449.1) scale(0.962,1)" fill="#c8281e" font-size="26.0" >377.00</text>
<text transform="translate(531,449) scale(0.962,1)" fill="#3a4fa0" font-size="20.8" ><tspan dx="0.6">y</tspan><tspan dy="6.9" dx="0.8" font-size="10.0">3</tspan><tspan dy="-14.15" dx="0.4" font-size="8.4" font-weight="bold">+</tspan></text>
<text transform="translate(531,472) scale(0.962,1)" fill="#3a4fa0" font-size="20.8" >319.16</text>
<text transform="translate(660,532.4) scale(0.962,1)" fill="#3a4fa0" font-size="26.0" ><tspan dx="0.8">y</tspan><tspan dy="8.6" dx="1.0" font-size="12.5">7</tspan><tspan dy="-16.1" font-size="13.0" font-weight="bold">2</tspan><tspan dy="-1.56" dx="0.5" font-size="10.5" font-weight="bold">+</tspan><tspan dy="9.06" dx="0.8">-H</tspan><tspan dy="8.6" dx="1.0" font-size="12.5">2</tspan><tspan dy="-8.6" dx="0.8">O</tspan></text>
<text transform="translate(660,560.4) scale(0.962,1)" fill="#3a4fa0" font-size="26.0" >386.99</text>
<text transform="translate(217,584.7) scale(0.962,1)" fill="#3a4fa0" font-size="26.0" ><tspan dx="0.8">y</tspan><tspan dy="8.6" dx="1.0" font-size="12.5">1</tspan><tspan dy="-17.66" dx="0.5" font-size="10.5" font-weight="bold">+</tspan></text>
<text transform="translate(217,614.2) scale(0.962,1)" fill="#3a4fa0" font-size="26.0" >175.11</text>
<text transform="translate(576.7,607) scale(0.962,1)" fill="#3a4fa0" font-size="20.8" ><tspan dx="0.6">y</tspan><tspan dy="6.9" dx="0.8" font-size="10.0">6</tspan><tspan dy="-12.9" font-size="10.4" font-weight="bold">2</tspan><tspan dy="-1.25" dx="0.4" font-size="8.4" font-weight="bold">+</tspan></text>
<text transform="translate(576.7,631) scale(0.962,1)" fill="#3a4fa0" font-size="20.8" >331.10</text>
<text transform="translate(462.5,625) scale(0.962,1)" fill="#c8281e" font-size="26.0" ><tspan dx="0.8">b</tspan><tspan dy="8.6" dx="1.0" font-size="12.5">3</tspan><tspan dy="-17.66" dx="0.5" font-size="10.5" font-weight="bold">+</tspan></text>
<text transform="translate(462.5,655.5) scale(0.962,1)" fill="#c8281e" font-size="26.0" >299.15</text>
<text transform="translate(238,640.8) scale(0.962,1)" fill="#c8281e" font-size="26.0" ><tspan dx="0.8">b</tspan><tspan dy="8.6" dx="1.0" font-size="12.5">2</tspan><tspan dy="-17.66" dx="0.5" font-size="10.5" font-weight="bold">+</tspan></text>
<text transform="translate(238,671.6) scale(0.962,1)" fill="#c8281e" font-size="26.0" >185.13</text>
<text transform="translate(316,631.5) scale(0.962,1)" fill="#3a4fa0" font-size="26.0" ><tspan dx="0.8">y</tspan><tspan dy="8.6" dx="1.0" font-size="12.5">2</tspan><tspan dy="-17.66" dx="0.5" font-size="10.5" font-weight="bold">+</tspan></text>
<text transform="translate(316,662.0) scale(0.962,1)" fill="#3a4fa0" font-size="26.0" >232.10</text>
<text transform="translate(457.4,700) scale(0.962,1)" fill="#3a4fa0" font-size="26.0" ><tspan dx="0.8">y</tspan><tspan dy="8.6" dx="1.0" font-size="12.5">3</tspan><tspan dy="-17.66" dx="0.5" font-size="10.5" font-weight="bold">+</tspan><tspan dy="9.06" dx="0.8">-H</tspan><tspan dy="8.6" dx="1.0" font-size="12.5">2</tspan></text>
<text transform="translate(687,616.8) scale(0.962,1)" fill="#c8281e" font-size="26.0" ><tspan dx="0.8">b</tspan><tspan dy="8.6" dx="1.0" font-size="12.5">4</tspan><tspan dy="-17.66" dx="0.5" font-size="10.5" font-weight="bold">+</tspan><tspan dy="9.06" dx="0.8">-NH</tspan><tspan dy="8.6" dx="1.0" font-size="12.5">3</tspan></text>
<text transform="translate(687,646.3) scale(0.962,1)" fill="#c8281e" font-size="26.0" >411.14</text>
<text transform="translate(814.7,104.6) scale(0.962,1)" fill="#3a4fa0" font-size="26.0" ><tspan dx="0.8">y</tspan><tspan dy="8.6" dx="1.0" font-size="12.5">9</tspan><tspan dy="-16.1" font-size="13.0" font-weight="bold">2</tspan><tspan dy="-1.56" dx="0.5" font-size="10.5" font-weight="bold">+</tspan><tspan dy="9.06" dx="0.8">-H</tspan><tspan dy="8.6" dx="1.0" font-size="12.5">2</tspan><tspan dy="-8.6" dx="0.8">O, y</tspan><tspan dy="8.6" dx="1.0" font-size="12.5">9</tspan><tspan dy="-16.1" font-size="13.0" font-weight="bold">2</tspan><tspan dy="-1.56" dx="0.5" font-size="10.5" font-weight="bold">+</tspan><tspan dy="9.06" dx="0.8">-NH</tspan><tspan dy="8.6" dx="1.0" font-size="12.5">3</tspan></text>
<text transform="translate(814.7,135.0) scale(0.962,1)" fill="#3a4fa0" font-size="26.0" >501.02</text>
<text transform="translate(1033,124.4) scale(0.962,1)" fill="#3a4fa0" font-size="26.0" ><tspan dx="0.8">y</tspan><tspan dy="8.6" dx="1.0" font-size="12.5">5</tspan><tspan dy="-17.66" dx="0.5" font-size="10.5" font-weight="bold">+</tspan></text>
<text transform="translate(1033,156.0) scale(0.962,1)" fill="#3a4fa0" font-size="26.0" >549.19</text>
<text transform="translate(763,177) scale(0.962,1)" fill="#3a4fa0" font-size="26.0" ><tspan dx="0.8">y</tspan><tspan dy="8.6" dx="1.0" font-size="12.5">4</tspan><tspan dy="-17.66" dx="0.5" font-size="10.5" font-weight="bold">+</tspan><tspan dy="9.06" dx="0.8">-NH</tspan><tspan dy="8.6" dx="1.0" font-size="12.5">3</tspan></text>
<text transform="translate(763,207.4) scale(0.962,1)" fill="#3a4fa0" font-size="26.0" >431.11</text>
<text transform="translate(1035,245.4) scale(0.962,1)" fill="#c8281e" font-size="26.0" ><tspan dx="0.8">b</tspan><tspan dy="8.6" dx="1.0" font-size="12.5">5</tspan></text>
<text transform="translate(820,269) scale(0.962,1)" fill="#3a4fa0" font-size="26.0" ><tspan dx="0.8">y</tspan><tspan dy="8.6" dx="1.0" font-size="12.5">8</tspan><tspan dy="-16.1" font-size="13.0" font-weight="bold">2</tspan><tspan dy="-1.56" dx="0.5" font-size="10.5" font-weight="bold">+</tspan></text>
<text transform="translate(820,299) scale(0.962,1)" fill="#3a4fa0" font-size="26.0" >453.34</text>
<text transform="translate(1279.7,252) scale(0.962,1)" fill="#3a4fa0" font-size="26.0" ><tspan dx="0.8">y</tspan><tspan dy="8.6" dx="1.0" font-size="12.5">6</tspan><tspan dy="-17.66" dx="0.5" font-size="10.5" font-weight="bold">+</tspan></text>
<text transform="translate(1279.7,283.7) scale(0.962,1)" fill="#3a4fa0" font-size="26.0" >662.27</text>
<text transform="translate(863,392) scale(0.962,1)" fill="#3a4fa0" font-size="26.0" ><tspan dx="0.8">y</tspan><tspan dy="8.6" dx="1.0" font-size="12.5">4</tspan><tspan dy="-17.66" dx="0.5" font-size="10.5" font-weight="bold">+</tspan></text>
<text transform="translate(863,420) scale(0.962,1)" fill="#3a4fa0" font-size="26.0" >448.17</text>
<text transform="translate(743.4,425.8) scale(0.962,1)" fill="#c8281e" font-size="26.0" ><tspan dx="0.8">b</tspan><tspan dy="8.6" dx="1.0" font-size="12.5">4</tspan><tspan dy="-17.66" dx="0.5" font-size="10.5" font-weight="bold">+</tspan></text>
<text transform="translate(743.4,456.0) scale(0.962,1)" fill="#c8281e" font-size="26.0" >428.12</text>
<text transform="translate(903,450) scale(0.962,1)" fill="#c8281e" font-size="26.0" ><tspan dx="0.8">b</tspan><tspan dy="8.6" dx="1.0" font-size="12.5">5</tspan><tspan dy="-17.66" dx="0.5" font-size="10.5" font-weight="bold">+</tspan><tspan dy="9.06" dx="0.8">-NH</tspan><tspan dy="8.6" dx="1.0" font-size="12.5">3</tspan></text>
<text transform="translate(903,477) scale(0.962,1)" fill="#c8281e" font-size="26.0" >524.20</text>
<text transform="translate(898,522) scale(0.962,1)" fill="#c8281e" font-size="26.0" ><tspan dx="0.8">b</tspan><tspan dy="8.6" dx="1.0" font-size="12.5">5</tspan><tspan dy="-17.66" dx="0.5" font-size="10.5" font-weight="bold">+</tspan><tspan dy="9.06" dx="0.8">-H</tspan><tspan dy="8.6" dx="1.0" font-size="12.5">2</tspan><tspan dy="-8.6" dx="0.8">O</tspan></text>
<text transform="translate(898,552) scale(0.962,1)" fill="#c8281e" font-size="26.0" >523.22</text>
<text transform="translate(892.7,586) scale(0.962,1)" fill="#3a4fa0" font-size="26.0" ><tspan dx="0.8">y</tspan><tspan dy="8.6" dx="1.0" font-size="12.5">9</tspan><tspan dy="-16.1" font-size="13.0" font-weight="bold">2</tspan><tspan dy="-1.56" dx="0.5" font-size="10.5" font-weight="bold">+</tspan></text>
<text transform="translate(892.7,616.3) scale(0.962,1)" fill="#3a4fa0" font-size="26.0" >509.27</text>
<text transform="translate(726,683) scale(0.962,1)" fill="#c8281e" font-size="19.76" ><tspan dx="0.6">b</tspan><tspan dy="6.6" dx="0.8" font-size="9.5">7</tspan><tspan dy="-12.3" font-size="9.9" font-weight="bold">2</tspan></text>
<text transform="translate(870,681.7) scale(0.962,1)" fill="#c8281e" font-size="19.76" ><tspan dx="0.6">b</tspan><tspan dy="6.6" dx="0.8" font-size="9.5">9</tspan><tspan dy="-12.3" font-size="9.9" font-weight="bold">2</tspan><tspan dy="-1.19" dx="0.4" font-size="8.0" font-weight="bold">-</tspan></text>
<text transform="translate(1156,621.8) scale(0.962,1)" fill="#c8281e" font-size="26.0" ><tspan dx="0.8">b</tspan><tspan dy="8.6" dx="1.0" font-size="12.5">6</tspan><tspan dy="-17.66" dx="0.5" font-size="10.5" font-weight="bold">+</tspan><tspan dy="9.06" dx="0.8">-NH</tspan><tspan dy="8.6" dx="1.0" font-size="12.5">3</tspan></text>
<text transform="translate(1156,652.6) scale(0.962,1)" fill="#c8281e" font-size="26.0" >625.30</text>
<text transform="translate(1162.5,679.6) scale(0.962,1)" fill="#c8281e" font-size="26.0" ><tspan dx="0.8">b</tspan><tspan dy="8.6" dx="1.0" font-size="12.5">6</tspan><tspan dy="-17.66" dx="0.5" font-size="10.5" font-weight="bold">+</tspan><tspan dy="9.06" dx="0.8">-H</tspan><tspan dy="8.6" dx="1.0" font-size="12.5">2</tspan></text>
<text transform="translate(1236,531) scale(0.962,1)" fill="#c8281e" font-size="26.0" ><tspan dx="0.8">b</tspan><tspan dy="8.6" dx="1.0" font-size="12.5">6</tspan><tspan dy="-17.66" dx="0.5" font-size="10.5" font-weight="bold">+</tspan></text>
<text transform="translate(1236,562.8) scale(0.962,1)" fill="#c8281e" font-size="26.0" >642.24</text>
<text transform="translate(1401,548) scale(0.962,1)" fill="#c8281e" font-size="26.0" ><tspan dx="0.8">b</tspan><tspan dy="8.6" dx="1.0" font-size="12.5">7</tspan><tspan dy="-17.66" dx="0.5" font-size="10.5" font-weight="bold">+</tspan><tspan dy="9.06" dx="0.8">-H</tspan><tspan dy="8.6" dx="1.0" font-size="12.5">2</tspan><tspan dy="-8.6" dx="0.8">O</tspan></text>
<text transform="translate(1401,577.7) scale(0.962,1)" fill="#c8281e" font-size="26.0" >753.29</text>
<text transform="translate(1401,630.5) scale(0.962,1)" fill="#c8281e" font-size="26.0" ><tspan dx="0.8">b</tspan><tspan dy="8.6" dx="1.0" font-size="12.5">7</tspan><tspan dy="-17.66" dx="0.5" font-size="10.5" font-weight="bold">+</tspan><tspan dy="9.06" dx="0.8">-NH</tspan><tspan dy="8.6" dx="1.0" font-size="12.5">3</tspan></text>
<text transform="translate(1401,660.0) scale(0.962,1)" fill="#c8281e" font-size="26.0" >754.27</text>
<text transform="translate(1563.5,539) scale(0.962,1)" fill="#3a4fa0" font-size="26.0" ><tspan dx="0.8">y</tspan><tspan dy="8.6" dx="1.0" font-size="12.5">7</tspan><tspan dy="-17.66" dx="0.5" font-size="10.5" font-weight="bold">+</tspan></text>
<text transform="translate(1563.5,569.3) scale(0.962,1)" fill="#3a4fa0" font-size="26.0" >791.34</text>
<text transform="translate(1495,590.4) scale(0.962,1)" fill="#c8281e" font-size="26.0" ><tspan dx="0.8">b</tspan><tspan dy="8.6" dx="1.0" font-size="12.5">7</tspan><tspan dy="-17.66" dx="0.5" font-size="10.5" font-weight="bold">+</tspan></text>
<text transform="translate(1495,622.0) scale(0.962,1)" fill="#c8281e" font-size="26.0" >771.37</text>
<text transform="translate(1623.5,603) scale(0.962,1)" fill="#c8281e" font-size="26.0" ><tspan dx="0.8">b</tspan><tspan dy="8.6" dx="1.0" font-size="12.5">8</tspan><tspan dy="-17.66" dx="0.5" font-size="10.5" font-weight="bold">+</tspan><tspan dy="9.06" dx="0.8">-H</tspan><tspan dy="8.6" dx="1.0" font-size="12.5">2</tspan><tspan dy="-8.6" dx="0.8">O</tspan></text>
<text transform="translate(1623.5,634.7) scale(0.962,1)" fill="#c8281e" font-size="26.0" >840.42</text>
<text transform="translate(1597.3,660) scale(0.962,1)" fill="#c8281e" font-size="26.0" ><tspan dx="0.8">b</tspan><tspan dy="8.6" dx="1.0" font-size="12.5">8</tspan><tspan dy="-17.66" dx="0.5" font-size="10.5" font-weight="bold">+</tspan><tspan dy="9.06" dx="0.8">-NH</tspan><tspan dy="8.6" dx="1.0" font-size="12.5">3</tspan></text>
<text transform="translate(1597.3,691) scale(0.962,1)" fill="#c8281e" font-size="26.0" >841.33</text>
<text transform="translate(1710.4,616.6) scale(0.962,1)" fill="#c8281e" font-size="26.0" ><tspan dx="0.8">b</tspan><tspan dy="8.6" dx="1.0" font-size="12.5">8</tspan><tspan dy="-17.66" dx="0.5" font-size="10.5" font-weight="bold">+</tspan></text>
<text transform="translate(1710.4,648.6) scale(0.962,1)" fill="#c8281e" font-size="26.0" >858.38</text>
<text transform="translate(1841,571.4) scale(0.962,1)" fill="#c8281e" font-size="26.0" ><tspan dx="0.8">b</tspan><tspan dy="8.6" dx="1.0" font-size="12.5">9</tspan><tspan dy="-17.66" dx="0.5" font-size="10.5" font-weight="bold">+</tspan><tspan dy="9.06" dx="0.8">-H</tspan><tspan dy="8.6" dx="1.0" font-size="12.5">2</tspan><tspan dy="-8.6" dx="0.8">O</tspan></text>
<text transform="translate(1841,603.0) scale(0.962,1)" fill="#c8281e" font-size="26.0" >897.37</text>
<text transform="translate(1859,648.7) scale(0.962,1)" fill="#c8281e" font-size="26.0" ><tspan dx="0.8">b</tspan><tspan dy="8.6" dx="1.0" font-size="12.5">9</tspan><tspan dy="-17.66" dx="0.5" font-size="10.5" font-weight="bold">+</tspan></text>
<text transform="translate(1859,680.3) scale(0.962,1)" fill="#c8281e" font-size="26.0" >915.28</text>
<text transform="translate(1790.6,674.8) scale(0.962,1)" fill="#3a4fa0" font-size="26.0" ><tspan dx="0.8">y</tspan><tspan dy="8.6" dx="1.0" font-size="12.5">8</tspan><tspan dy="-17.66" dx="0.5" font-size="10.5" font-weight="bold">+</tspan><tspan dy="9.06" dx="0.8">-NH</tspan></text>
<text transform="translate(1812.6,323) scale(0.962,1)" fill="#3a4fa0" font-size="26.0" ><tspan dx="0.8">y</tspan><tspan dy="8.6" dx="1.0" font-size="12.5">8</tspan><tspan dy="-17.66" dx="0.5" font-size="10.5" font-weight="bold">+</tspan></text>
<text transform="translate(1812.6,352.5) scale(0.962,1)" fill="#3a4fa0" font-size="26.0" >905.41</text>
</g>
<g id="panelB">
<text transform="translate(10.7,981.4) scale(0.95,1)" fill="#1c1a1a" font-size="79.2" font-weight="bold">B</text>
<line x1="146.3" y1="1048" x2="146.3" y2="1463" stroke="#111" stroke-width="2.4" />
<line x1="145.1" y1="1461.7" x2="1924.5" y2="1461.7" stroke="#111" stroke-width="3.1" />
<text transform="translate(137.6,1062.9) scale(0.962,1)" fill="#111" font-size="38.48" text-anchor="end" >100</text>
<text transform="translate(137.6,1146.2) scale(0.962,1)" fill="#111" font-size="38.48" text-anchor="end" >80</text>
<text transform="translate(137.6,1229.2) scale(0.962,1)" fill="#111" font-size="38.48" text-anchor="end" >60</text>
<text transform="translate(137.6,1313.7) scale(0.962,1)" fill="#111" font-size="38.48" text-anchor="end" >40</text>
<text transform="translate(137.6,1397.5) scale(0.962,1)" fill="#111" font-size="38.48" text-anchor="end" >20</text>
<text transform="translate(137.6,1481.0) scale(0.962,1)" fill="#111" font-size="38.48" text-anchor="end" >0</text>
<text transform="translate(305.6,1509) scale(0.962,1)" fill="#111" font-size="39.83" text-anchor="middle" >200</text>
<text transform="translate(659,1509) scale(0.962,1)" fill="#111" font-size="39.83" text-anchor="middle" >400</text>
<text transform="translate(1002.7,1509) scale(0.962,1)" fill="#111" font-size="39.83" text-anchor="middle" >600</text>
<text transform="translate(1346,1509) scale(0.962,1)" fill="#111" font-size="39.83" text-anchor="middle" >800</text>
<text transform="translate(1690,1509) scale(0.962,1)" fill="#111" font-size="39.83" text-anchor="middle" >1000</text>
<text transform="translate(1004.8,1567.7) scale(0.962,1)" fill="#111" font-size="54.08" text-anchor="middle" >m/z</text>
<text transform="translate(64.3,1473.5) rotate(-90)" font-size="52.5" textLength="452" lengthAdjust="spacing" fill="#111">Relative Abundance</text>
<path d="M188.4 1461.5V1425M192.2 1461.5V1428.6M220 1461.5V1438M264 1461.5V1453M268.8 1461.5V1453M321 1461.5V1439M349.5 1461.5V1448M356.7 1461.5V1435M381.5 1461.5V1435M419.5 1461.5V1441M500 1461.5V1430.7M532 1461.5V1442.5M608.3 1461.5V1445M626.5 1461.5V1432M671.6 1461.5V1435M727.4 1461.5V1448.4M797.8 1461.5V1428.6M865 1461.5V1444.6M1525.5 1461.5V1440.6" stroke="#000" stroke-width="2.2" fill="none"/>
<path d="M201 1461.5V1454M204 1461.5V1454M207 1461.5V1454M209.5 1461.5V1454M288.8 1461.5V1452.6M328.8 1461.5V1452.6M346.5 1461.5V1452.6M389 1461.5V1448M467 1461.5V1448.8M495.4 1461.5V1452.6M506.7 1461.5V1451.5M528 1461.5V1451.5M602 1461.5V1446M668 1461.5V1449M683 1461.5V1448M699 1461.5V1444.6M812 1461.5V1420M825.6 1461.5V1450M895.6 1461.5V1450M1189 1461.5V1450M1251.5 1461.5V1446M1274 1461.5V1449.6M1422 1461.5V1448M1430.5 1461.5V1449M1490.5 1461.5V1450M1761 1461.5V1450" stroke="#000" stroke-width="2" fill="none"/>
<path d="M266.4 1461.5V1448M317 1461.5V1305.5M387 1461.5V1413.8M398.4 1461.5V1422M428.8 1461.5V1423.5M597 1461.5V1364M769.6 1461.5V1448M808.4 1461.5V1410M830.7 1461.5V1425M925 1461.5V1047.5M998 1461.5V1422M1192.8 1461.5V1443M1222.3 1461.5V1406M1225 1461.5V1432M1249 1461.5V1422M1253.7 1461.5V1442M1462.2 1461.5V1300" stroke="#000" stroke-width="2.4" fill="none"/>
<path d="M713.7 1461.5V1299.7" stroke="#000" stroke-width="2.8" fill="none"/>
<path d="M810.2 1461.5V1405.4M894 1461.5V1421.4M909.5 1461.5V1419" stroke="#000" stroke-width="2.6" fill="none"/>
<rect x="922.4" y="1256" width="6" height="205.5" fill="#000"/>
<rect x="1461" y="1437" width="5.4" height="24.5" fill="#000"/>
<rect x="1461" y="1369.6" width="3" height="91.90000000000009" fill="#000"/>
<path d="M189.7 1416L198 1413.8M433.4 1377V1416L429 1422M627.3 1419L638.7 1416M1181.5 1433.6L1193 1435.7M1275.5 1444L1292 1430.7M720 1338L714.8 1386.4M932 1202.7L927.7 1256M918.4 1291L923.4 1336M1469.8 1338L1464.3 1369.6M1470.6 1401.3L1465.6 1435" stroke="#6cbf4b" stroke-width="1.4" fill="none"/>
<line x1="261.2" y1="1418.5" x2="271.4" y2="1442" stroke="#e8392c" stroke-width="1.6" />
<line x1="897.3" y1="1401" x2="907.4" y2="1430" stroke="#3f55a5" stroke-width="1.6" />
<text transform="translate(888.4,1032.8) scale(0.962,1)" fill="#111" font-size="23.19" >549.760</text>
<text transform="translate(936,1191.7) scale(0.962,1)" fill="#111" font-size="23.19" >551.236</text>
<text transform="translate(837.9,1280.7) scale(0.962,1)" fill="#111" font-size="23.19" >549.258</text>
<text transform="translate(676.6,1282.8) scale(0.962,1)" fill="#111" font-size="23.19" >429.191</text>
<text transform="translate(724,1328) scale(0.962,1)" fill="#111" font-size="23.19" >429.692</text>
<text transform="translate(281,1282.8) scale(0.962,1)" fill="#111" font-size="23.19" >202.180</text>
<text transform="translate(560.7,1341) scale(0.962,1)" fill="#111" font-size="23.19" >362.204</text>
<text transform="translate(396.3,1365.3) scale(0.962,1)" fill="#111" font-size="23.19" >266.125</text>
<text transform="translate(163,1400) scale(0.962,1)" fill="#111" font-size="23.19" >129.102</text>
<text transform="translate(347,1395) scale(0.962,1)" fill="#111" font-size="23.19" >242.150</text>
<text transform="translate(463.7,1408.8) scale(0.962,1)" fill="#111" font-size="23.19" >306.933</text>
<text transform="translate(604,1408.8) scale(0.962,1)" fill="#111" font-size="23.19" >379.210</text>
<text transform="translate(769.6,1380) scale(0.962,1)" fill="#111" font-size="23.19" >484.709</text>
<text transform="translate(962,1399) scale(0.962,1)" fill="#111" font-size="23.19" >592.258</text>
<text transform="translate(1185.7,1379) scale(0.962,1)" fill="#111" font-size="23.19" >720.317</text>
<text transform="translate(1129,1420) scale(0.962,1)" fill="#111" font-size="23.19" >703.289</text>
<text transform="translate(1255.6,1413) scale(0.962,1)" fill="#111" font-size="23.19" >750.162</text>
<text transform="translate(1362,1427.7) scale(0.962,1)" fill="#111" font-size="23.19" >834.448</text>
<text transform="translate(1426.3,1282) scale(0.962,1)" fill="#111" font-size="23.19" >857.375</text>
<text transform="translate(1472.8,1327.6) scale(0.962,1)" fill="#111" font-size="23.19" >858.377</text>
<text transform="translate(1475,1392) scale(0.962,1)" fill="#111" font-size="23.19" >859.380</text>
<text transform="translate(1488.8,1418) scale(0.962,1)" fill="#111" font-size="23.19" >893.368</text>
<text transform="translate(1721.8,1428) scale(0.962,1)" fill="#111" font-size="23.19" >1028.6799</text>
<text transform="translate(914,998) scale(0.962,1)" fill="#3f55a5" font-size="24.44" >M</text>
<text transform="translate(863,1392) scale(0.962,1)" fill="#3f55a5" font-size="25.58" >M-18</text>
<text transform="translate(248,1411.5) scale(0.962,1)" fill="#e8392c" font-size="23.4" >y1</text>
<text transform="translate(278.3,1434.6) scale(0.962,1)" fill="#3f55a5" font-size="23.4" >a2</text>
<text transform="translate(1626.8,1043.8) scale(0.962,1)" fill="#111" font-size="53.35" text-anchor="middle" >4</text>
<text transform="translate(1676.2,1043.8) scale(0.962,1)" fill="#111" font-size="53.35" text-anchor="middle" >3</text>
<text transform="translate(1723,1043.8) scale(0.962,1)" fill="#111" font-size="53.35" text-anchor="middle" >2</text>
<text transform="translate(1769.5,1043.8) scale(0.962,1)" fill="#111" font-size="53.35" text-anchor="middle" >1</text>
<text transform="translate(1626.8,1185.8) scale(0.962,1)" fill="#111" font-size="53.35" text-anchor="middle" >1</text>
<text transform="translate(1674,1185.8) scale(0.962,1)" fill="#111" font-size="53.35" text-anchor="middle" >2</text>
<text transform="translate(1722,1185.8) scale(0.962,1)" fill="#111" font-size="53.35" text-anchor="middle" >3</text>
<text transform="translate(1769,1185.8) scale(0.962,1)" fill="#111" font-size="53.35" text-anchor="middle" >4</text>
<text transform="translate(1632,1114.6) scale(0.962,1)" fill="#111" font-size="53.35" text-anchor="middle" >N</text>
<text transform="translate(1682,1114.6) scale(0.962,1)" fill="#111" font-size="53.35" text-anchor="middle" >V</text>
<text transform="translate(1728.6,1114.6) scale(0.962,1)" fill="#e3173e" font-size="53.35" text-anchor="middle" >T</text>
<text transform="translate(1777,1114.6) scale(0.962,1)" fill="#111" font-size="53.35" text-anchor="middle" >R</text>
<path d="M1755.6 1075V1057.5H1793.6" stroke="#e0103a" stroke-width="2.2" fill="none"/>
<path d="M1664 1139H1702V1119.5" stroke="#2b4ca0" stroke-width="2.2" fill="none"/>
</g>
<g id="panelC">
<text transform="translate(9.9,1723.2) scale(0.936,1)" fill="#1c1a1a" font-size="79.6" font-weight="bold">C</text>
<g transform="translate(270,1950) scale(0.19906)" fill="none" stroke-linecap="round" stroke-linejoin="round">
<path d="M440 510 C400 460 300 460 200 440 S90 450 90 520 S120 640 200 650 S300 600 350 660 S420 720 430 740" stroke="#0a3629" stroke-width="15.6"/>
<path d="M420 900 C330 920 280 960 230 1040 S150 1090 120 1100" stroke="#0a3629" stroke-width="15.6"/>
<path d="M560 1100 C470 1090 400 1130 400 1190 S470 1250 500 1280" stroke="#0a3629" stroke-width="15.6"/>
<path d="M540 1250 C400 1220 280 1230 270 1300 S250 1380 330 1400 S370 1460 380 1500 S450 1520 520 1500" stroke="#0a3629" stroke-width="15.6"/>
<path d="M600 1340 C520 1400 480 1480 520 1560 S480 1640 430 1660 S420 1740 480 1780" stroke="#0a3629" stroke-width="15.6"/>
<path d="M690 1650 C600 1640 520 1680 500 1740 S560 1760 640 1740" stroke="#0a3629" stroke-width="15.6"/>
<path d="M740 1680 C760 1760 740 1840 690 1890" stroke="#0a3629" stroke-width="15.6"/>
<path d="M880 1700 C840 1740 820 1790 890 1790" stroke="#0a3629" stroke-width="15.6"/>
<path d="M900 1680 C960 1720 1000 1700 1040 1690" stroke="#0a3629" stroke-width="15.6"/>
<path d="M1230 1190 C1300 1150 1390 1150 1400 1200 S1380 1280 1450 1300 S1560 1400 1560 1480 S1540 1540 1570 1570" stroke="#0a3629" stroke-width="15.6"/>
<path d="M1290 1310 C1350 1280 1400 1300 1400 1350 S1440 1420 1500 1470" stroke="#0a3629" stroke-width="15.6"/>
<path d="M1240 1540 C1300 1520 1370 1560 1370 1620 S1300 1680 1250 1640 S1230 1580 1240 1540" stroke="#0a3629" stroke-width="15.6"/>
<path d="M1380 1510 C1450 1530 1520 1570 1530 1620 S1450 1660 1380 1650 S1280 1660 1220 1620" stroke="#0a3629" stroke-width="15.6"/>
<path d="M1160 290 C1230 320 1290 400 1270 470 S1230 540 1170 530" stroke="#0a3629" stroke-width="15.6"/>
<path d="M1100 560 C1170 560 1230 620 1210 690 S1100 680 1000 680" stroke="#0a3629" stroke-width="15.6"/>
<path d="M1000 780 C1080 800 1150 850 1170 900 S1290 920 1380 900" stroke="#0a3629" stroke-width="15.6"/>
<path d="M1080 1000 C1150 1000 1230 1020 1290 1060 S1380 1110 1440 1060 S1470 1000 1460 980" stroke="#0a3629" stroke-width="15.6"/>
<path d="M940 0 C960 50 920 100 930 150 S900 250 870 300 S820 380 780 410" stroke="#0a3629" stroke-width="15.6"/>
<path d="M1010 240 C1030 200 1080 190 1120 220 S1160 280 1180 300" stroke="#0a3629" stroke-width="15.6"/>
<path d="M850 440 C900 380 960 340 1020 350" stroke="#0a3629" stroke-width="15.6"/>
<path d="M1150 630 C1250 640 1350 600 1420 640 S1480 720 1440 780" stroke="#0a3629" stroke-width="15.6"/>
<path d="M350 780 C330 840 360 900 420 900" stroke="#0a3629" stroke-width="15.6"/>
<path d="M470 800 C440 850 470 900 520 900" stroke="#0a3629" stroke-width="15.6"/>
<path d="M340 980 C350 1040 420 1060 480 1040" stroke="#0a3629" stroke-width="15.6"/>
<path d="M1250 1180 C1200 1230 1230 1280 1290 1300" stroke="#0a3629" stroke-width="15.6"/>
<path d="M1050 1500 C1080 1580 1150 1620 1220 1610" stroke="#0a3629" stroke-width="15.6"/>
<path d="M620 1560 C560 1600 540 1660 600 1680" stroke="#0a3629" stroke-width="15.6"/>
<path d="M1000 1640 C1050 1600 1100 1600 1130 1640" stroke="#0a3629" stroke-width="15.6"/>
<path d="M1130 1000 C1200 960 1280 970 1340 1010 S1360 1080 1300 1100" stroke="#0a3629" stroke-width="15.6"/>
<path d="M440 1620 C400 1660 420 1720 470 1730" stroke="#0a3629" stroke-width="15.6"/>
<path d="M1180 1090 C1120 1110 1130 1160 1180 1170" stroke="#0a3629" stroke-width="15.6"/>
<path d="M870 500 C840 450 860 400 920 380 S1000 360 1040 390" stroke="#0a3629" stroke-width="15.6"/>
<path d="M1400 1350 C1470 1340 1520 1380 1540 1440" stroke="#0a3629" stroke-width="15.6"/>
<path d="M450 640 C430 690 450 740 500 760" stroke="#0a3629" stroke-width="15.6"/>
<path d="M1120 920 C1200 900 1300 940 1340 1000 S1300 1100 1240 1080" stroke="#0a3629" stroke-width="15.6"/>
<path d="M1150 1120 C1230 1090 1330 1130 1380 1180" stroke="#0a3629" stroke-width="15.6"/>
<path d="M1260 1380 C1330 1360 1420 1400 1460 1460 S1440 1560 1380 1560" stroke="#0a3629" stroke-width="15.6"/>
<path d="M1100 1700 C1180 1660 1280 1680 1320 1740 S1240 1800 1180 1780" stroke="#0a3629" stroke-width="15.6"/>
<path d="M640 1800 C720 1760 820 1780 880 1830" stroke="#0a3629" stroke-width="15.6"/>
<path d="M380 1420 C340 1480 360 1560 420 1600 S500 1580 540 1620" stroke="#0a3629" stroke-width="15.6"/>
<path d="M300 1000 C360 1000 420 1040 440 1100 S400 1180 340 1160" stroke="#0a3629" stroke-width="15.6"/>
<path d="M420 1180 C480 1160 540 1180 580 1230" stroke="#0a3629" stroke-width="15.6"/>
<path d="M520 1460 C580 1440 640 1470 660 1520 S620 1600 560 1590" stroke="#0a3629" stroke-width="15.6"/>
<path d="M900 1820 C960 1780 1040 1790 1080 1840" stroke="#0a3629" stroke-width="15.6"/>
<path d="M1000 1180 C1060 1140 1140 1140 1200 1180" stroke="#0a3629" stroke-width="15.6"/>
<path d="M820 330 C880 300 960 310 1000 360" stroke="#0a3629" stroke-width="15.6"/>
<path d="M1220 560 C1290 540 1350 570 1380 630" stroke="#0a3629" stroke-width="15.6"/>
<path d="M1180 740 C1240 760 1260 820 1230 870 S1150 900 1110 870" stroke="#0a3629" stroke-width="15.6"/>
<path d="M340 660 C400 700 420 760 400 820" stroke="#0a3629" stroke-width="15.6"/>
<path d="M600 1660 C660 1620 740 1630 790 1680 S800 1780 750 1800" stroke="#0a3629" stroke-width="15.6"/>
<path d="M960 1900 C1000 1860 1060 1860 1100 1890" stroke="#0a3629" stroke-width="15.6"/>
<path d="M640 700 C760 640 900 560 1010 520 L1060 580 C960 640 820 720 700 770 Z" fill="#0d5b47" stroke="#083d30" stroke-width="8"/>
<path d="M545 320 L600 330 L700 420 C850 440 1000 420 1190 400 L1200 470 C1000 500 850 500 680 480 L590 420 Z" fill="#158063" stroke="#0d5b47" stroke-width="8"/>
<path d="M520 510 C650 500 800 520 960 530 L980 590 C820 600 680 590 560 600 Z" fill="#158063" stroke="#0d5b47" stroke-width="8"/>
<path d="M600 600 C720 590 850 590 960 570 L980 640 C850 660 740 680 640 700 Z" fill="#0d5b47" stroke="#083d30" stroke-width="8"/>
<path d="M410 740 C550 700 750 660 960 600 L990 680 C800 740 600 780 440 800 Z" fill="#158063" stroke="#0d5b47" stroke-width="8"/>
<path d="M880 870 C960 850 1060 830 1130 810 L1140 870 C1060 890 980 920 900 930 Z" fill="#158063" stroke="#0d5b47" stroke-width="8"/>
<path d="M430 900 C550 860 700 850 810 870 L800 920 C700 910 560 920 450 940 Z" fill="#158063" stroke="#0d5b47" stroke-width="8"/>
<path d="M500 990 C600 940 700 920 800 910 L800 960 C720 980 640 1000 590 1030 L510 1030 Z" fill="#158063" stroke="#0d5b47" stroke-width="8"/>
<path d="M940 1040 L990 1040 L990 1160 L940 1160 Z" fill="#0d5b47" stroke="#083d30" stroke-width="8"/>
<path d="M760 1140 C850 1080 930 1020 1010 960 L1060 1000 C980 1070 900 1130 820 1180 Z" fill="#158063" stroke="#0d5b47" stroke-width="8"/>
<path d="M520 570 L580 590 C650 720 800 820 1000 900 L1110 960 L1100 1010 L1020 1000 C850 930 650 820 560 680 Z" fill="#158063" stroke="#0d5b47" stroke-width="8"/>
<path d="M700 780 C800 760 900 740 1000 700 L1020 760 C920 800 820 820 740 830 Z" fill="#0d5b47" stroke="#083d30" stroke-width="8"/>
<path d="M630 1130 L690 1120 L760 1200 C900 1180 1050 1150 1200 1150 L1220 1200 L1180 1260 C1050 1260 900 1270 740 1290 Z" fill="#158063" stroke="#0d5b47" stroke-width="8"/>
<path d="M550 1250 C700 1240 860 1260 1010 1290 L1000 1350 C850 1330 700 1320 580 1310 Z" fill="#158063" stroke="#0d5b47" stroke-width="8"/>
<path d="M870 1330 C1000 1320 1150 1300 1270 1290 L1290 1330 L1270 1370 C1150 1380 1000 1390 880 1400 Z" fill="#158063" stroke="#0d5b47" stroke-width="8"/>
<path d="M600 1340 L680 1330 L700 1390 L620 1400 Z" fill="#0d5b47" stroke="#083d30" stroke-width="8"/>
<path d="M690 1480 C800 1440 900 1420 1000 1410 L1270 1430 L1280 1470 C1150 1490 1000 1500 900 1500 L720 1540 Z" fill="#158063" stroke="#0d5b47" stroke-width="8"/>
<path d="M860 1400 C900 1440 960 1480 1040 1500 L1030 1560 C960 1550 900 1520 850 1480 Z" fill="#0d5b47" stroke="#083d30" stroke-width="8"/>
<path d="M790 1300 C830 1360 850 1420 850 1500" stroke="#0d5b47" stroke-width="44"/>
<path d="M790 1300 C830 1360 850 1420 850 1500" stroke="#158063" stroke-width="32"/>
<path d="M820 1560 C950 1530 1100 1500 1220 1470 L1230 1520 C1100 1560 960 1590 840 1610 L800 1610 Z" fill="#158063" stroke="#0d5b47" stroke-width="8"/>
<path d="M540 1730 L600 1660 L720 1650 L730 1700 L640 1720 L560 1760 Z" fill="#158063" stroke="#0d5b47" stroke-width="8"/>
<path d="M950 1790 C1020 1720 1100 1660 1200 1600 L1220 1640 C1140 1700 1060 1760 1000 1800 Z" fill="#158063" stroke="#0d5b47" stroke-width="8"/>
<path d="M560 640 C680 640 800 630 930 600 L950 650 C830 690 700 700 590 700 Z" fill="#158063" stroke="#0d5b47" stroke-width="8"/>
<path d="M470 830 C600 800 720 790 820 800 L810 850 C700 840 600 850 480 880 Z" fill="#0d5b47" stroke="#083d30" stroke-width="8"/>
<path d="M900 700 C980 680 1040 640 1100 600 L1130 650 C1070 700 1000 740 930 760 Z" fill="#158063" stroke="#0d5b47" stroke-width="8"/>
<path d="M700 1060 C780 1020 860 960 920 900 L960 940 C900 1010 820 1070 750 1110 Z" fill="#0d5b47" stroke="#083d30" stroke-width="8"/>
<path d="M620 1380 C720 1360 820 1360 920 1380 L910 1440 C820 1420 730 1420 640 1440 Z" fill="#158063" stroke="#0d5b47" stroke-width="8"/>
<path d="M740 1290 C860 1280 980 1280 1100 1260 L1110 1310 C1000 1330 880 1340 760 1340 Z" fill="#0d5b47" stroke="#083d30" stroke-width="8"/>
<path d="M820 1620 C900 1600 980 1570 1060 1540 L1080 1590 C1000 1630 920 1660 840 1680 Z" fill="#158063" stroke="#0d5b47" stroke-width="8"/>
<path d="M980 1540 C1060 1530 1140 1510 1220 1480 L1230 1530 C1150 1570 1070 1590 1000 1600 Z" fill="#0d5b47" stroke="#083d30" stroke-width="8"/>
<path d="M1000 1420 L1070 1400 L1080 1500 L1020 1520 Z" fill="#158063" stroke="#0d5b47" stroke-width="8"/>
<path d="M1000 880 L1100 900 L1110 950 L1090 1000 L1020 960 Z" fill="#158063" stroke="#0d5b47" stroke-width="8"/>
<path d="M1050 760 L1100 740 L1120 800 L1060 820 Z" fill="#158063" stroke="#0d5b47" stroke-width="8"/>
<path d="M1280 880 L1340 860 L1330 910 L1290 920 Z" fill="#158063" stroke="#0d5b47" stroke-width="8"/>
<path d="M560 600 C600 700 640 760 700 800" stroke="#0d5b47" stroke-width="40"/>
<path d="M560 600 C600 700 640 760 700 800" stroke="#158063" stroke-width="28"/>
<path d="M1160 280 L1215 30 L1255 30 L1240 150 L1200 290 Z" fill="#158063" stroke="#0d5b47" stroke-width="8"/>
<path d="M1230 210 L1330 50 L1380 40 L1370 90 L1270 230 Z" fill="#158063" stroke="#0d5b47" stroke-width="8"/>
<path d="M1102 367 L1108 364 L1113 359 L1118 353 L1123 347 L1128 339 L1133 331 L1139 323 L1145 316 L1151 309 L1158 303 L1165 299 L1171 297 L1179 296 L1187 298 M1177 398 L1178 404 L1181 410 L1185 416 L1191 422 L1197 429 L1203 436 L1210 443 L1216 450 L1222 457 L1227 464 L1231 470 L1233 476 L1234 482 L1234 487" stroke="#083d30" stroke-width="49.68"/>
<path d="M1102 367 L1108 364 L1113 359 L1118 353 L1123 347 L1128 339 L1133 331 L1139 323 L1145 316 L1151 309 L1158 303 L1165 299 L1171 297 L1179 296 L1187 298 M1177 398 L1178 404 L1181 410 L1185 416 L1191 422 L1197 429 L1203 436 L1210 443 L1216 450 L1222 457 L1227 464 L1231 470 L1233 476 L1234 482 L1234 487" stroke="#0d5b47" stroke-width="39.68"/>
<path d="M1050 340 L1057 347 L1064 354 L1071 359 L1078 364 L1084 367 L1091 368 L1097 368 L1102 367 M1187 298 L1195 302 L1206 311 L1212 320 L1215 332 L1214 342 L1210 352 L1204 360 L1198 366 L1192 372 L1186 378 L1182 383 L1179 388 L1177 393 L1177 398 M1234 487 L1232 491" stroke="#0d5b47" stroke-width="54"/>
<path d="M1050 340 L1057 347 L1064 354 L1071 359 L1078 364 L1084 367 L1091 368 L1097 368 L1102 367 M1187 298 L1195 302 L1206 311 L1212 320 L1215 332 L1214 342 L1210 352 L1204 360 L1198 366 L1192 372 L1186 378 L1182 383 L1179 388 L1177 393 L1177 398 M1234 487 L1232 491" stroke="#158063" stroke-width="42"/>
<path d="M1299 797 L1295 792 L1291 787 L1286 782 L1280 778 L1274 773 L1267 768 L1261 763 L1255 757 L1249 751 L1244 744 L1241 737 L1240 728 L1241 719 L1249 705 M1344 740 L1350 740 L1355 739 L1361 737 L1368 734 L1375 732 L1382 729 L1391 728 L1399 727 L1408 729 L1417 733 L1424 738 L1430 745 L1433 752 L1435 760 M1386 848 L1387 853 L1389 860 L1392 866 L1395 872 L1400 878 L1405 885 L1411 891 L1417 897" stroke="#083d30" stroke-width="49.68"/>
<path d="M1299 797 L1295 792 L1291 787 L1286 782 L1280 778 L1274 773 L1267 768 L1261 763 L1255 757 L1249 751 L1244 744 L1241 737 L1240 728 L1241 719 L1249 705 M1344 740 L1350 740 L1355 739 L1361 737 L1368 734 L1375 732 L1382 729 L1391 728 L1399 727 L1408 729 L1417 733 L1424 738 L1430 745 L1433 752 L1435 760 M1386 848 L1387 853 L1389 860 L1392 866 L1395 872 L1400 878 L1405 885 L1411 891 L1417 897" stroke="#0d5b47" stroke-width="39.68"/>
<path d="M1285 850 L1290 843 L1294 836 L1297 829 L1299 822 L1301 815 L1301 809 L1301 803 L1299 797 M1249 705 L1262 696 L1271 695 L1280 696 L1289 699 L1296 704 L1302 709 L1308 714 L1314 720 L1319 725 L1325 730 L1330 734 L1335 737 L1339 739 L1344 740 M1435 760 L1435 767 L1434 774 L1431 781 L1427 788 L1422 794 L1417 801 L1411 807 L1406 813 L1400 819 L1396 824 L1392 830 L1389 836 L1387 842 L1386 848" stroke="#0d5b47" stroke-width="54"/>
<path d="M1285 850 L1290 843 L1294 836 L1297 829 L1299 822 L1301 815 L1301 809 L1301 803 L1299 797 M1249 705 L1262 696 L1271 695 L1280 696 L1289 699 L1296 704 L1302 709 L1308 714 L1314 720 L1319 725 L1325 730 L1330 734 L1335 737 L1339 739 L1344 740 M1435 760 L1435 767 L1434 774 L1431 781 L1427 788 L1422 794 L1417 801 L1411 807 L1406 813 L1400 819 L1396 824 L1392 830 L1389 836 L1387 842 L1386 848" stroke="#158063" stroke-width="42"/>
</g>
<g transform="translate(240,1720) scale(0.18735)" fill="none" stroke-linecap="round" stroke-linejoin="round">
<path d="M320 380 C350 300 400 230 470 228 S580 250 600 180 S650 90 690 98 S730 170 745 205" stroke="#0a3629" stroke-width="16.5"/>
<path d="M185 535 C120 540 80 580 95 630 S170 640 230 605 S380 570 470 550" stroke="#0a3629" stroke-width="16.5"/>
<path d="M165 580 C170 680 230 760 300 790" stroke="#0a3629" stroke-width="16.5"/>
<path d="M300 620 C360 590 420 580 480 560" stroke="#0a3629" stroke-width="16.5"/>
<path d="M1225 525 C1270 495 1370 490 1395 530 S1400 640 1395 690 L1340 685" stroke="#0a3629" stroke-width="16.5"/>
<path d="M1300 830 C1380 830 1450 880 1445 930 S1380 1040 1300 1075 S1280 1180 1250 1240 S1160 1300 1160 1441" stroke="#0a3629" stroke-width="16.5"/>
<path d="M1330 830 C1360 850 1380 870 1390 885" stroke="#0a3629" stroke-width="16.5"/>
<path d="M1095 930 L1130 1010 L1095 1100" stroke="#0a3629" stroke-width="16.5"/>
<path d="M235 920 C230 980 260 1010 300 990" stroke="#0a3629" stroke-width="16.5"/>
<path d="M300 990 C320 1040 380 1060 420 1050" stroke="#0a3629" stroke-width="16.5"/>
<path d="M870 1110 C900 1150 980 1150 1010 1090 S990 1040 970 1030" stroke="#0a3629" stroke-width="16.5"/>
<path d="M90 940 L230 910" stroke="#0a3629" stroke-width="16.5"/>
<path d="M1150 430 C1200 450 1220 500 1210 560" stroke="#0a3629" stroke-width="16.5"/>
<path d="M640 450 C700 400 760 350 830 335 L900 370 C1000 420 1100 480 1200 540 L1340 640 L1330 710 L1180 640 C1080 590 960 520 880 470 C800 440 720 470 670 500 Z" fill="#0d5b47" stroke="#083d30" stroke-width="8"/>
<path d="M680 430 C730 390 780 350 830 335 L900 370 C1000 420 1100 480 1200 540 L1340 640 L1335 680 L1180 600 C1080 550 960 480 880 430 C800 410 760 440 720 470 Z" fill="#158063" stroke="#0d5b47" stroke-width="8"/>
<path d="M420 590 C600 630 800 640 900 655 C1050 690 1200 740 1325 780 L1310 855 C1200 830 1050 780 880 745 C700 720 560 690 440 665 Z" fill="#158063" stroke="#0d5b47" stroke-width="8"/>
<path d="M850 830 C1000 880 1150 880 1250 860 L1285 905 L1220 960 C1100 980 980 960 880 935 Z" fill="#0d5b47" stroke="#083d30" stroke-width="8"/>
<path d="M870 850 C1000 890 1150 890 1250 870 L1280 905 L1225 940 C1100 955 980 940 890 915 Z" fill="#158063" stroke="#0d5b47" stroke-width="8"/>
<path d="M330 900 C450 955 600 975 950 995 L975 1085 C800 1095 600 1075 420 1030 L350 975 Z" fill="#0d5b47" stroke="#083d30" stroke-width="8"/>
<path d="M330 900 C450 955 600 975 950 995 L960 1050 C800 1050 600 1030 350 955 Z" fill="#158063" stroke="#0d5b47" stroke-width="8"/>
<path d="M930 380 L960 375 C1050 420 1130 470 1180 520 L1140 560 C1080 500 1000 450 920 410 Z" fill="#158063" stroke="#0d5b47" stroke-width="8"/>
<path d="M1515 1190 C1540 1130 1640 1150 1660 1230 L1640 1290" stroke="#0a3629" stroke-width="16.5"/>
<path d="M1465 1260 L1505 1250 L1495 1330 L1445 1441 L1405 1441 Z" fill="#158063" stroke="#0d5b47" stroke-width="8"/>
<path d="M1610 1265 L1660 1285 L1640 1320 L1540 1441 L1495 1441 Z" fill="#158063" stroke="#0d5b47" stroke-width="8"/>
<path d="M705 252 L712 246 L717 238 L722 229 L727 219 L731 207 L736 196 L740 184 L745 173 L749 162 L754 153 L759 145 L765 138 L770 134 L776 131 L783 131 M881 243 L886 241 L891 237 L899 232 L905 225 L913 218 L921 209 L930 201 L939 192 L949 184 L958 177 L967 170 L975 165 L983 162 L991 160 L997 160 L1003 161 M1073 300 L1080 299 L1087 295 L1093 290 L1101 283 L1108 275 L1115 265 L1121 255 L1128 244 L1134 234 L1141 224 L1147 215 L1153 206 L1159 200 L1165 195 L1171 192 L1177 191 L1183 192" stroke="#083d30" stroke-width="58.88"/>
<path d="M705 252 L712 246 L717 238 L722 229 L727 219 L731 207 L736 196 L740 184 L745 173 L749 162 L754 153 L759 145 L765 138 L770 134 L776 131 L783 131 M881 243 L886 241 L891 237 L899 232 L905 225 L913 218 L921 209 L930 201 L939 192 L949 184 L958 177 L967 170 L975 165 L983 162 L991 160 L997 160 L1003 161 M1073 300 L1080 299 L1087 295 L1093 290 L1101 283 L1108 275 L1115 265 L1121 255 L1128 244 L1134 234 L1141 224 L1147 215 L1153 206 L1159 200 L1165 195 L1171 192 L1177 191 L1183 192" stroke="#0d5b47" stroke-width="48.88"/>
<path d="M783 131 L789 132 L796 136 L803 141 L810 148 L817 157 L824 166 L831 176 L837 187 L843 198 L849 208 L855 217 L860 226 L864 233 L868 238 L874 242 L877 243 L881 243 M1003 161 L1008 165 L1012 170 L1016 177 L1018 186 L1021 196 L1023 207 L1025 219 L1028 231 L1030 243 L1034 255 L1037 266 L1041 276 L1047 285 L1053 292 L1060 297 L1065 299 L1073 300 M1183 192 L1189 195 L1194 200 L1200 207 L1206 215 L1212 224 L1218 235 L1224 245 L1229 257" stroke="#0d5b47" stroke-width="64"/>
<path d="M783 131 L789 132 L796 136 L803 141 L810 148 L817 157 L824 166 L831 176 L837 187 L843 198 L849 208 L855 217 L860 226 L864 233 L868 238 L874 242 L877 243 L881 243 M1003 161 L1008 165 L1012 170 L1016 177 L1018 186 L1021 196 L1023 207 L1025 219 L1028 231 L1030 243 L1034 255 L1037 266 L1041 276 L1047 285 L1053 292 L1060 297 L1065 299 L1073 300 M1183 192 L1189 195 L1194 200 L1200 207 L1206 215 L1212 224 L1218 235 L1224 245 L1229 257" stroke="#158063" stroke-width="52"/>
<path d="M229 491 L235 490 L241 488 L247 484 L254 479 L260 473 L267 467 L273 459 L280 451 L286 443 L293 435 L299 428 L306 421 L312 415 L318 411 L325 408 L331 406 L337 406 M431 506 L437 506 L443 504 L449 501 L456 496 L462 491 L469 484 L476 477 L483 469 L489 461 L496 454 L503 447 L510 440 L517 435 L523 430 L530 427 L536 426 L543 425 L548 427 M636 532 L642 531 L648 529 L655 525 L662 520 L669 514 L676 507 L684 500 L691 493 L699 486 L706 479 L713 473 L720 468 L727 464 L734 461 L741 460 L747 460 L752 462 M834 571 L840 571 L847 569 L854 565 L861 561 L868 555 L876 549 L883 542 L891 535 L898 528 L906 522 L913 516 L921 511 L928 507 L935 504 L941 502 L947 502 L953 503 M1033 615 L1039 614 L1046 613 L1053 610 L1060 605 L1067 600 L1074 594 L1082 587 L1090 580 L1097 574 L1105 567 L1113 561 L1120 555 L1127 551 L1134 548 L1140 546 L1146 546 L1152 547" stroke="#083d30" stroke-width="92.0"/>
<path d="M229 491 L235 490 L241 488 L247 484 L254 479 L260 473 L267 467 L273 459 L280 451 L286 443 L293 435 L299 428 L306 421 L312 415 L318 411 L325 408 L331 406 L337 406 M431 506 L437 506 L443 504 L449 501 L456 496 L462 491 L469 484 L476 477 L483 469 L489 461 L496 454 L503 447 L510 440 L517 435 L523 430 L530 427 L536 426 L543 425 L548 427 M636 532 L642 531 L648 529 L655 525 L662 520 L669 514 L676 507 L684 500 L691 493 L699 486 L706 479 L713 473 L720 468 L727 464 L734 461 L741 460 L747 460 L752 462 M834 571 L840 571 L847 569 L854 565 L861 561 L868 555 L876 549 L883 542 L891 535 L898 528 L906 522 L913 516 L921 511 L928 507 L935 504 L941 502 L947 502 L953 503 M1033 615 L1039 614 L1046 613 L1053 610 L1060 605 L1067 600 L1074 594 L1082 587 L1090 580 L1097 574 L1105 567 L1113 561 L1120 555 L1127 551 L1134 548 L1140 546 L1146 546 L1152 547" stroke="#0d5b47" stroke-width="82.0"/>
<path d="M162 414 L168 422 L173 430 L178 439 L183 448 L189 457 L194 465 L200 472 L206 479 L211 484 L217 488 L223 490 L229 491 M337 406 L343 407 L349 410 L354 415 L360 420 L366 427 L371 435 L376 443 L382 452 L387 461 L392 469 L398 478 L403 485 L408 492 L414 498 L420 502 L425 505 L431 506 M548 427 L554 430 L560 434 L565 440 L570 447 L575 455 L580 464 L585 473 L590 482 L594 491 L599 500 L604 508 L609 515 L614 521 L618 526 L624 530 L630 532 L636 532 M752 462 L758 465 L763 469 L768 475 L773 482 L777 490 L782 499 L786 508 L790 518 L794 527 L799 536 L803 545 L808 552 L812 559 L817 564 L823 568 L828 570 L834 571 M953 503 L959 506 L964 511 L969 517 L973 524 L978 531 L982 540 L986 549 L990 559 L994 568 L998 578 L1002 586 L1007 594 L1012 601 L1016 606 L1022 611 L1027 613 L1033 615 M1152 547 L1158 550 L1163 554 L1168 560 L1173 566 L1177 574 L1181 583" stroke="#0d5b47" stroke-width="100"/>
<path d="M162 414 L168 422 L173 430 L178 439 L183 448 L189 457 L194 465 L200 472 L206 479 L211 484 L217 488 L223 490 L229 491 M337 406 L343 407 L349 410 L354 415 L360 420 L366 427 L371 435 L376 443 L382 452 L387 461 L392 469 L398 478 L403 485 L408 492 L414 498 L420 502 L425 505 L431 506 M548 427 L554 430 L560 434 L565 440 L570 447 L575 455 L580 464 L585 473 L590 482 L594 491 L599 500 L604 508 L609 515 L614 521 L618 526 L624 530 L630 532 L636 532 M752 462 L758 465 L763 469 L768 475 L773 482 L777 490 L782 499 L786 508 L790 518 L794 527 L799 536 L803 545 L808 552 L812 559 L817 564 L823 568 L828 570 L834 571 M953 503 L959 506 L964 511 L969 517 L973 524 L978 531 L982 540 L986 549 L990 559 L994 568 L998 578 L1002 586 L1007 594 L1012 601 L1016 606 L1022 611 L1027 613 L1033 615 M1152 547 L1158 550 L1163 554 L1168 560 L1173 566 L1177 574 L1181 583" stroke="#158063" stroke-width="88"/>
<path d="M353 902 L358 897 L362 892 L365 886 L367 878 L369 869 L371 860 L373 850 L374 840 L376 830 L378 820 L380 811 L383 802 L386 795 L390 788 L395 783 L400 779 L406 777 M525 838 L530 835 L536 831 L541 826 L547 819 L552 812 L558 804 L564 796 L570 787 L576 779 L582 771 L588 765 L594 759 L601 754 L607 751 L614 750 L620 750 M711 848 L717 847 L723 845 L730 842 L736 837 L744 832 L751 826 L759 819 L767 813 L774 806 L783 800 L791 795 L798 791 L806 788 L813 787 L820 786 L827 788 L833 791 M869 911 L871 912 L875 912 L880 912 L886 913 L894 914 L902 916 L912 918 L921 922 L931 926 L940 930 L949 935 L956 941 L963 946 L968 952 L971 958 L973 965 L974 971" stroke="#083d30" stroke-width="92.0"/>
<path d="M353 902 L358 897 L362 892 L365 886 L367 878 L369 869 L371 860 L373 850 L374 840 L376 830 L378 820 L380 811 L383 802 L386 795 L390 788 L395 783 L400 779 L406 777 M525 838 L530 835 L536 831 L541 826 L547 819 L552 812 L558 804 L564 796 L570 787 L576 779 L582 771 L588 765 L594 759 L601 754 L607 751 L614 750 L620 750 M711 848 L717 847 L723 845 L730 842 L736 837 L744 832 L751 826 L759 819 L767 813 L774 806 L783 800 L791 795 L798 791 L806 788 L813 787 L820 786 L827 788 L833 791 M869 911 L871 912 L875 912 L880 912 L886 913 L894 914 L902 916 L912 918 L921 922 L931 926 L940 930 L949 935 L956 941 L963 946 L968 952 L971 958 L973 965 L974 971" stroke="#0d5b47" stroke-width="82.0"/>
<path d="M309 899 L318 902 L327 905 L334 906 L342 906 L348 904 L353 902 M406 777 L414 776 L420 777 L428 779 L437 782 L445 787 L453 792 L461 798 L469 805 L476 812 L483 818 L490 824 L497 830 L503 834 L509 837 L514 839 L520 839 L525 838 M620 750 L626 751 L632 754 L638 759 L644 765 L650 772 L655 780 L660 788 L666 797 L671 806 L676 814 L680 822 L685 830 L690 836 L695 841 L700 845 L705 847 L711 848 M833 791 L838 796 L842 801 L847 809 L850 817 L853 826 L855 836 L857 846 L858 856 L860 866 L860 875 L861 884 L861 891 L862 898 L863 903 L866 908 L869 911 M974 971 L973 978 L970 984 L965 991 L960 997 L954 1004 L946 1010 L939 1016 L931 1023 L924 1031" stroke="#0d5b47" stroke-width="100"/>
<path d="M309 899 L318 902 L327 905 L334 906 L342 906 L348 904 L353 902 M406 777 L414 776 L420 777 L428 779 L437 782 L445 787 L453 792 L461 798 L469 805 L476 812 L483 818 L490 824 L497 830 L503 834 L509 837 L514 839 L520 839 L525 838 M620 750 L626 751 L632 754 L638 759 L644 765 L650 772 L655 780 L660 788 L666 797 L671 806 L676 814 L680 822 L685 830 L690 836 L695 841 L700 845 L705 847 L711 848 M833 791 L838 796 L842 801 L847 809 L850 817 L853 826 L855 836 L857 846 L858 856 L860 866 L860 875 L861 884 L861 891 L862 898 L863 903 L866 908 L869 911 M974 971 L973 978 L970 984 L965 991 L960 997 L954 1004 L946 1010 L939 1016 L931 1023 L924 1031" stroke="#158063" stroke-width="88"/>
<path d="M77 1034 L80 1039 L85 1045 L91 1050 L99 1055 L108 1059 L118 1064 L128 1068 L138 1073 L147 1077 L155 1082 L162 1086 L167 1091 L171 1096 L173 1102 M117 1211 L121 1216 L126 1220 L134 1224 L142 1227 L152 1230 L162 1233 L173 1235 L183 1238 L193 1240 L202 1242 L210 1245 L217 1249 L221 1252 L225 1257 L226 1262 M231 1381 L243 1382 L254 1379 L264 1374 L272 1366 L278 1357 L282 1346 L285 1336 L287 1325 L288 1315 L290 1306 L292 1298 L295 1291 L298 1286 L302 1282 L308 1279 M415 1319 L420 1316 L425 1312 L429 1305 L433 1298 L437 1289 L441 1279 L444 1269 L448 1259 L452 1249 L456 1240 L460 1232 L465 1225 L470 1221 L476 1218 L482 1217" stroke="#083d30" stroke-width="58.88"/>
<path d="M77 1034 L80 1039 L85 1045 L91 1050 L99 1055 L108 1059 L118 1064 L128 1068 L138 1073 L147 1077 L155 1082 L162 1086 L167 1091 L171 1096 L173 1102 M117 1211 L121 1216 L126 1220 L134 1224 L142 1227 L152 1230 L162 1233 L173 1235 L183 1238 L193 1240 L202 1242 L210 1245 L217 1249 L221 1252 L225 1257 L226 1262 M231 1381 L243 1382 L254 1379 L264 1374 L272 1366 L278 1357 L282 1346 L285 1336 L287 1325 L288 1315 L290 1306 L292 1298 L295 1291 L298 1286 L302 1282 L308 1279 M415 1319 L420 1316 L425 1312 L429 1305 L433 1298 L437 1289 L441 1279 L444 1269 L448 1259 L452 1249 L456 1240 L460 1232 L465 1225 L470 1221 L476 1218 L482 1217" stroke="#0d5b47" stroke-width="48.88"/>
<path d="M110 980 L102 987 L95 995 L88 1002 L82 1009 L78 1015 L76 1022 L75 1028 L77 1034 M173 1102 L173 1108 L171 1114 L168 1121 L163 1128 L157 1135 L150 1143 L143 1151 L136 1159 L129 1167 L123 1176 L119 1184 L116 1192 L114 1199 L115 1205 L117 1211 M226 1262 L226 1268 L225 1275 L222 1282 L218 1291 L214 1300 L210 1309 L206 1320 L204 1330 L202 1341 L203 1351 L206 1361 L212 1370 L221 1377 L231 1381 M308 1279 L314 1279 L321 1279 L330 1281 L338 1285 L348 1289 L357 1294 L367 1299 L376 1304 L385 1309 L392 1314 L399 1317 L406 1319 L411 1320 L415 1319 M482 1217 L488 1217 L495 1220 L502 1224 L509 1230 L517 1236 L525 1244 L532 1251 L540 1259 L548 1266 L555 1272 L562 1276 L569 1279 L576 1281" stroke="#0d5b47" stroke-width="64"/>
<path d="M110 980 L102 987 L95 995 L88 1002 L82 1009 L78 1015 L76 1022 L75 1028 L77 1034 M173 1102 L173 1108 L171 1114 L168 1121 L163 1128 L157 1135 L150 1143 L143 1151 L136 1159 L129 1167 L123 1176 L119 1184 L116 1192 L114 1199 L115 1205 L117 1211 M226 1262 L226 1268 L225 1275 L222 1282 L218 1291 L214 1300 L210 1309 L206 1320 L204 1330 L202 1341 L203 1351 L206 1361 L212 1370 L221 1377 L231 1381 M308 1279 L314 1279 L321 1279 L330 1281 L338 1285 L348 1289 L357 1294 L367 1299 L376 1304 L385 1309 L392 1314 L399 1317 L406 1319 L411 1320 L415 1319 M482 1217 L488 1217 L495 1220 L502 1224 L509 1230 L517 1236 L525 1244 L532 1251 L540 1259 L548 1266 L555 1272 L562 1276 L569 1279 L576 1281" stroke="#158063" stroke-width="52"/>
<path d="M629 1156 L635 1156 L642 1155 L649 1153 L657 1150 L665 1146 L674 1141 L683 1136 L692 1131 L701 1126 L709 1122 L717 1119 L725 1118 L732 1117 L739 1119 L745 1122 M762 1240 L766 1243 L772 1245 L779 1246 L787 1247 L796 1248 L806 1249 L816 1251 L826 1253 L836 1255 L845 1259 L853 1264 L860 1269 L865 1276 L869 1284 L870 1295 M757 1345 L755 1350 L753 1356 L752 1364 L752 1373 L753 1383 L755 1393" stroke="#083d30" stroke-width="66.24000000000001"/>
<path d="M629 1156 L635 1156 L642 1155 L649 1153 L657 1150 L665 1146 L674 1141 L683 1136 L692 1131 L701 1126 L709 1122 L717 1119 L725 1118 L732 1117 L739 1119 L745 1122 M762 1240 L766 1243 L772 1245 L779 1246 L787 1247 L796 1248 L806 1249 L816 1251 L826 1253 L836 1255 L845 1259 L853 1264 L860 1269 L865 1276 L869 1284 L870 1295 M757 1345 L755 1350 L753 1356 L752 1364 L752 1373 L753 1383 L755 1393" stroke="#0d5b47" stroke-width="56.24000000000001"/>
<path d="M600 1100 L602 1110 L604 1120 L607 1129 L610 1137 L614 1144 L618 1149 L623 1153 L629 1156 M745 1122 L750 1127 L754 1133 L757 1141 L759 1150 L761 1160 L761 1170 L760 1180 L759 1190 L758 1200 L757 1209 L756 1218 L756 1225 L757 1231 L759 1236 L762 1240 M870 1295 L868 1305 L863 1314 L856 1322 L847 1329 L837 1333 L827 1334 L817 1335 L807 1335 L797 1335 L788 1335 L780 1335 L772 1336 L766 1338 L761 1340 L757 1345" stroke="#0d5b47" stroke-width="72"/>
<path d="M600 1100 L602 1110 L604 1120 L607 1129 L610 1137 L614 1144 L618 1149 L623 1153 L629 1156 M745 1122 L750 1127 L754 1133 L757 1141 L759 1150 L761 1160 L761 1170 L760 1180 L759 1190 L758 1200 L757 1209 L756 1218 L756 1225 L757 1231 L759 1236 L762 1240 M870 1295 L868 1305 L863 1314 L856 1322 L847 1329 L837 1333 L827 1334 L817 1335 L807 1335 L797 1335 L788 1335 L780 1335 L772 1336 L766 1338 L761 1340 L757 1345" stroke="#158063" stroke-width="60"/>
<path d="M330 1000 C420 1050 520 1080 660 1100 L650 1150 C520 1130 420 1100 320 1050 Z" fill="#158063" stroke="#0d5b47" stroke-width="8"/>
<path d="M1140 1030 L1650 1270" stroke="#2a2a2a" stroke-width="13" stroke-dasharray="26 16" stroke-linecap="butt"/>
</g>
<g transform="translate(500,1890) scale(0.20492)" fill="none" stroke-linecap="round" stroke-linejoin="round">
<path d="M600 380 C540 300 500 200 540 130 S620 60 660 110 S700 190 760 190 S860 230 850 300 S800 370 780 400" stroke="#5a0e36" stroke-width="14.2"/>
<path d="M420 440 C340 430 290 460 300 520 S340 600 320 660 S280 740 330 790 S400 800 440 780" stroke="#5a0e36" stroke-width="14.2"/>
<path d="M200 715 C280 740 360 760 440 760 S560 720 640 740" stroke="#5a0e36" stroke-width="14.2"/>
<path d="M330 520 C400 570 480 600 560 560 S600 500 620 480" stroke="#5a0e36" stroke-width="14.2"/>
<path d="M620 580 C640 640 700 640 740 620 S780 680 760 740 S800 800 840 820" stroke="#5a0e36" stroke-width="14.2"/>
<path d="M850 560 C880 640 860 720 840 800" stroke="#5a0e36" stroke-width="14.2"/>
<path d="M650 800 C640 860 700 900 740 880" stroke="#5a0e36" stroke-width="14.2"/>
<path d="M400 1000 C380 1060 400 1120 440 1140" stroke="#5a0e36" stroke-width="14.2"/>
<path d="M330 1280 C280 1230 240 1200 200 1190" stroke="#5a0e36" stroke-width="14.2"/>
<path d="M330 1280 C370 1300 410 1290 440 1270" stroke="#5a0e36" stroke-width="14.2"/>
<path d="M640 1340 C700 1360 780 1300 790 1230" stroke="#5a0e36" stroke-width="14.2"/>
<path d="M840 1200 C820 1300 860 1400 900 1440 S960 1470 990 1460" stroke="#5a0e36" stroke-width="14.2"/>
<path d="M1400 1270 C1450 1320 1440 1400 1480 1440 S1540 1500 1530 1560 S1500 1640 1440 1650 S1360 1700 1350 1757" stroke="#5a0e36" stroke-width="14.2"/>
<path d="M1290 1310 C1320 1360 1300 1420 1290 1470" stroke="#5a0e36" stroke-width="14.2"/>
<path d="M1520 1180 C1580 1170 1620 1200 1600 1240 S1520 1260 1480 1240" stroke="#5a0e36" stroke-width="14.2"/>
<path d="M1000 1570 C1060 1540 1120 1560 1140 1610 S1200 1680 1260 1620 S1380 1600 1440 1640 S1500 1700 1490 1757" stroke="#5a0e36" stroke-width="14.2"/>
<path d="M1090 560 C1150 540 1200 520 1240 540" stroke="#5a0e36" stroke-width="14.2"/>
<path d="M940 600 C1000 640 1040 620 1080 600" stroke="#5a0e36" stroke-width="14.2"/>
<path d="M480 740 C540 700 600 700 660 720" stroke="#5a0e36" stroke-width="14.2"/>
<path d="M300 620 C340 680 360 720 420 740" stroke="#5a0e36" stroke-width="14.2"/>
<path d="M1020 1500 C1000 1560 960 1600 930 1640" stroke="#5a0e36" stroke-width="14.2"/>
<path d="M560 560 C620 620 700 660 780 660 S900 620 960 640" stroke="#5a0e36" stroke-width="14.2"/>
<path d="M700 700 C760 760 800 800 820 860" stroke="#5a0e36" stroke-width="14.2"/>
<path d="M900 560 C960 620 1020 700 1040 780" stroke="#5a0e36" stroke-width="14.2"/>
<path d="M440 1150 C500 1200 580 1240 640 1230 S760 1180 800 1200" stroke="#5a0e36" stroke-width="14.2"/>
<path d="M1240 1100 C1300 1140 1360 1200 1380 1260" stroke="#5a0e36" stroke-width="14.2"/>
<path d="M380 900 C420 880 470 880 500 900" stroke="#5a0e36" stroke-width="14.2"/>
<path d="M1180 720 C1240 760 1300 780 1360 780" stroke="#5a0e36" stroke-width="14.2"/>
<path d="M1300 900 C1340 960 1380 1000 1420 1020" stroke="#5a0e36" stroke-width="14.2"/>
<path d="M620 1240 C640 1290 680 1330 730 1350" stroke="#5a0e36" stroke-width="14.2"/>
<path d="M100 940 C120 890 180 880 200 925" stroke="#8e1257" stroke-width="36"/>
<path d="M100 940 C120 890 180 880 200 925" stroke="#d2207d" stroke-width="24"/>
<path d="M150 1060 L230 1050 L190 1150 Z" fill="#d2207d" stroke="#8e1257" stroke-width="6"/>
<path d="M390 1270 L450 1250 L470 1300 L420 1320 Z" fill="#d2207d" stroke="#8e1257" stroke-width="6"/>
<path d="M720 860 L780 880 L800 1100 L760 1180 L700 1180 L740 1080 Z" fill="#8e1257" stroke="#6e0d44" stroke-width="8"/>
<path d="M760 780 L830 830 L860 1000 L840 1200 L880 1400 L820 1400 L780 1200 L790 1000 Z" fill="#8e1257" stroke="#6e0d44" stroke-width="8"/>
<path d="M900 830 L1000 860 L1200 1050 L1380 1220 L1410 1260 L1390 1310 L1330 1290 L1180 1150 L980 950 Z" fill="#d2207d" stroke="#8e1257" stroke-width="8"/>
<path d="M880 860 L940 850 L1100 1050 L1250 1250 L1290 1300 L1300 1400 L1240 1400 L1180 1300 L1050 1120 L900 920 Z" fill="#8e1257" stroke="#6e0d44" stroke-width="8"/>
<path d="M860 880 L900 870 L1000 1100 L1080 1300 L1120 1400 L1060 1420 L980 1250 L900 1050 Z" fill="#d2207d" stroke="#8e1257" stroke-width="8"/>
<path d="M800 850 L860 830 L880 1000 L900 1200 L940 1450 L980 1470 L960 1500 L900 1480 L840 1200 L810 1000 Z" fill="#d2207d" stroke="#8e1257" stroke-width="8"/>
<path d="M820 700 L870 720 L900 860 L840 850 Z" fill="#8e1257" stroke="#6e0d44" stroke-width="8"/>
<path d="M940 830 L1010 820 L1240 1000 L1460 1170 L1500 1200 L1470 1260 L1400 1240 L1200 1090 L960 900 Z" fill="#d2207d" stroke="#8e1257" stroke-width="8"/>
<path d="M1000 1180 L1060 1160 L1180 1330 L1280 1440 L1220 1470 L1100 1350 Z" fill="#8e1257" stroke="#6e0d44" stroke-width="8"/>
<path d="M740 1000 L800 990 L830 1200 L870 1380 L810 1390 L770 1200 Z" fill="#d2207d" stroke="#8e1257" stroke-width="8"/>
<path d="M620 1200 L700 1180 L780 1330 L720 1360 Z" fill="#8e1257" stroke="#6e0d44" stroke-width="8"/>
<path d="M880 1757 L960 1600 L1000 1590 L1000 1650 L960 1757 Z" fill="#d2207d" stroke="#8e1257" stroke-width="8"/>
<path d="M930 900 L990 880 L1150 1080 L1320 1290 L1260 1330 L1100 1140 Z" fill="#d2207d" stroke="#8e1257" stroke-width="8"/>
<path d="M700 1180 L780 1170 L820 1330 L760 1350 Z" fill="#8e1257" stroke="#6e0d44" stroke-width="8"/>
<path d="M447 416 L453 418 L460 418 L467 417 L476 415 L484 412 L494 408 L503 404 L512 399 L522 394 L531 390 L540 385 L549 382 L557 379 L564 377 L571 375 L577 376 L582 377 L588 380 M670 503 L676 501 L683 497 L689 492 L696 485 L702 478 L708 469 L713 460 L718 451 L723 442 L728 433 L733 424 L737 416 L742 409 L747 403 L753 399 L759 396 L764 394 M874 487 L880 487 L885 485 L891 482 L896 478 L903 472 L910 466 L917 460 L925 453 L933 445 L940 438 L949 432 L956 426 L964 420 L972 416 L979 413 L986 411 L992 411 L998 412 M1071 541 L1077 542 L1083 541 L1090 540 L1097 537 L1105 532 L1113 528 L1122 522 L1130 516 L1139 510 L1148 504 L1156 498 L1164 493 L1172 488 L1180 485 L1187 483 L1194 482 L1200 482 L1206 484" stroke="#6e0d44" stroke-width="80.96000000000001"/>
<path d="M447 416 L453 418 L460 418 L467 417 L476 415 L484 412 L494 408 L503 404 L512 399 L522 394 L531 390 L540 385 L549 382 L557 379 L564 377 L571 375 L577 376 L582 377 L588 380 M670 503 L676 501 L683 497 L689 492 L696 485 L702 478 L708 469 L713 460 L718 451 L723 442 L728 433 L733 424 L737 416 L742 409 L747 403 L753 399 L759 396 L764 394 M874 487 L880 487 L885 485 L891 482 L896 478 L903 472 L910 466 L917 460 L925 453 L933 445 L940 438 L949 432 L956 426 L964 420 L972 416 L979 413 L986 411 L992 411 L998 412 M1071 541 L1077 542 L1083 541 L1090 540 L1097 537 L1105 532 L1113 528 L1122 522 L1130 516 L1139 510 L1148 504 L1156 498 L1164 493 L1172 488 L1180 485 L1187 483 L1194 482 L1200 482 L1206 484" stroke="#8e1257" stroke-width="70.96000000000001"/>
<path d="M423 363 L425 373 L426 382 L428 390 L430 398 L433 404 L437 410 L441 414 L447 416 M588 380 L591 384 L595 390 L598 396 L601 404 L604 412 L606 421 L609 431 L612 441 L615 452 L619 462 L622 471 L628 480 L634 487 L639 493 L647 498 L653 501 L661 503 L670 503 M764 394 L771 394 L777 395 L784 398 L791 402 L798 408 L805 414 L812 421 L819 429 L825 438 L832 446 L838 454 L844 462 L850 469 L854 475 L860 480 L865 484 L870 486 L874 487 M998 412 L1004 415 L1009 419 L1014 425 L1019 432 L1022 440 L1026 449 L1029 458 L1032 468 L1035 478 L1038 488 L1041 498 L1045 508 L1048 516 L1052 524 L1056 530 L1060 535 L1065 539 L1071 541 M1206 484 L1211 487 L1216 492 L1220 497 L1223 505 L1227 513 L1230 522 L1233 531" stroke="#8e1257" stroke-width="88"/>
<path d="M423 363 L425 373 L426 382 L428 390 L430 398 L433 404 L437 410 L441 414 L447 416 M588 380 L591 384 L595 390 L598 396 L601 404 L604 412 L606 421 L609 431 L612 441 L615 452 L619 462 L622 471 L628 480 L634 487 L639 493 L647 498 L653 501 L661 503 L670 503 M764 394 L771 394 L777 395 L784 398 L791 402 L798 408 L805 414 L812 421 L819 429 L825 438 L832 446 L838 454 L844 462 L850 469 L854 475 L860 480 L865 484 L870 486 L874 487 M998 412 L1004 415 L1009 419 L1014 425 L1019 432 L1022 440 L1026 449 L1029 458 L1032 468 L1035 478 L1038 488 L1041 498 L1045 508 L1048 516 L1052 524 L1056 530 L1060 535 L1065 539 L1071 541 M1206 484 L1211 487 L1216 492 L1220 497 L1223 505 L1227 513 L1230 522 L1233 531" stroke="#d2207d" stroke-width="76"/>
<path d="M1145 670 L1150 666 L1155 661 L1159 655 L1163 648 L1167 639 L1170 630 L1174 620 L1178 610 L1181 601 L1185 591 L1190 582 L1194 575 L1199 568 L1205 563 L1211 559 L1218 557 L1224 557 M1307 650 L1311 651 L1318 651 L1324 649 L1331 646 L1338 643 L1348 640 L1357 636 L1367 632 L1377 629 L1387 627 L1397 625 L1406 624 L1415 624 L1423 625 L1430 628 L1435 631 L1440 637 M1429 772 L1434 775 L1440 777 L1447 780 L1455 782 L1464 784 L1474 786 L1484 788 L1495 791 L1504 793 L1514 797 L1523 801 L1531 806 L1537 811 L1542 816 L1546 823 L1547 830 M1444 913 L1443 918 L1443 924 L1445 931 L1446 939 L1449 948 L1452 957 L1455 967 L1458 977 L1461 987 L1464 997 L1466 1006 L1468 1015 L1469 1022 L1469 1028 L1469 1033" stroke="#6e0d44" stroke-width="73.60000000000001"/>
<path d="M1145 670 L1150 666 L1155 661 L1159 655 L1163 648 L1167 639 L1170 630 L1174 620 L1178 610 L1181 601 L1185 591 L1190 582 L1194 575 L1199 568 L1205 563 L1211 559 L1218 557 L1224 557 M1307 650 L1311 651 L1318 651 L1324 649 L1331 646 L1338 643 L1348 640 L1357 636 L1367 632 L1377 629 L1387 627 L1397 625 L1406 624 L1415 624 L1423 625 L1430 628 L1435 631 L1440 637 M1429 772 L1434 775 L1440 777 L1447 780 L1455 782 L1464 784 L1474 786 L1484 788 L1495 791 L1504 793 L1514 797 L1523 801 L1531 806 L1537 811 L1542 816 L1546 823 L1547 830 M1444 913 L1443 918 L1443 924 L1445 931 L1446 939 L1449 948 L1452 957 L1455 967 L1458 977 L1461 987 L1464 997 L1466 1006 L1468 1015 L1469 1022 L1469 1028 L1469 1033" stroke="#8e1257" stroke-width="63.60000000000001"/>
<path d="M1080 640 L1088 647 L1096 654 L1104 660 L1112 665 L1119 668 L1126 671 L1133 672 L1139 672 L1145 670 M1224 557 L1231 558 L1238 561 L1245 566 L1252 572 L1260 579 L1267 586 L1273 595 L1279 604 L1284 612 L1289 621 L1292 628 L1294 635 L1296 641 L1301 646 L1304 649 L1307 650 M1440 637 L1443 643 L1445 650 L1446 658 L1445 667 L1444 676 L1442 686 L1439 696 L1436 706 L1433 716 L1430 726 L1428 735 L1425 743 L1424 750 L1423 757 L1424 762 L1426 768 L1429 772 M1547 830 L1547 838 L1545 846 L1542 854 L1537 861 L1530 869 L1522 875 L1514 882 L1504 886 L1495 890 L1485 894 L1476 896 L1468 898 L1461 899 L1455 901 L1451 904 L1447 907 L1444 913" stroke="#8e1257" stroke-width="80"/>
<path d="M1080 640 L1088 647 L1096 654 L1104 660 L1112 665 L1119 668 L1126 671 L1133 672 L1139 672 L1145 670 M1224 557 L1231 558 L1238 561 L1245 566 L1252 572 L1260 579 L1267 586 L1273 595 L1279 604 L1284 612 L1289 621 L1292 628 L1294 635 L1296 641 L1301 646 L1304 649 L1307 650 M1440 637 L1443 643 L1445 650 L1446 658 L1445 667 L1444 676 L1442 686 L1439 696 L1436 706 L1433 716 L1430 726 L1428 735 L1425 743 L1424 750 L1423 757 L1424 762 L1426 768 L1429 772 M1547 830 L1547 838 L1545 846 L1542 854 L1537 861 L1530 869 L1522 875 L1514 882 L1504 886 L1495 890 L1485 894 L1476 896 L1468 898 L1461 899 L1455 901 L1451 904 L1447 907 L1444 913" stroke="#d2207d" stroke-width="68"/>
<path d="M1439 1083 L1445 1081 L1451 1078 L1456 1073 L1462 1067 L1467 1061 L1472 1054 L1478 1046 L1483 1039 L1489 1032 L1495 1025 L1502 1019 L1508 1014 L1515 1011 L1523 1009 L1531 1009 L1536 1010 M1518 1110 L1518 1115 L1519 1121 L1521 1129 L1524 1136 L1528 1144 L1532 1152 L1536 1160 L1540 1169 L1544 1177 L1547 1185 L1549 1193 L1551 1200 L1551 1207 L1551 1213 L1549 1219" stroke="#6e0d44" stroke-width="62.56"/>
<path d="M1439 1083 L1445 1081 L1451 1078 L1456 1073 L1462 1067 L1467 1061 L1472 1054 L1478 1046 L1483 1039 L1489 1032 L1495 1025 L1502 1019 L1508 1014 L1515 1011 L1523 1009 L1531 1009 L1536 1010 M1518 1110 L1518 1115 L1519 1121 L1521 1129 L1524 1136 L1528 1144 L1532 1152 L1536 1160 L1540 1169 L1544 1177 L1547 1185 L1549 1193 L1551 1200 L1551 1207 L1551 1213 L1549 1219" stroke="#8e1257" stroke-width="52.56"/>
<path d="M1400 1067 L1407 1073 L1414 1078 L1421 1081 L1427 1083 L1433 1084 L1439 1083 M1536 1010 L1544 1013 L1552 1019 L1559 1026 L1568 1038 L1570 1049 L1569 1060 L1563 1068 L1557 1075 L1549 1079 L1542 1083 L1536 1087 L1530 1090 L1525 1095 L1522 1099 L1520 1104 L1518 1110 M1549 1219 L1545 1224 L1541 1228 L1535 1232 L1529 1235 L1521 1238 L1513 1241" stroke="#8e1257" stroke-width="68"/>
<path d="M1400 1067 L1407 1073 L1414 1078 L1421 1081 L1427 1083 L1433 1084 L1439 1083 M1536 1010 L1544 1013 L1552 1019 L1559 1026 L1568 1038 L1570 1049 L1569 1060 L1563 1068 L1557 1075 L1549 1079 L1542 1083 L1536 1087 L1530 1090 L1525 1095 L1522 1099 L1520 1104 L1518 1110 M1549 1219 L1545 1224 L1541 1228 L1535 1232 L1529 1235 L1521 1238 L1513 1241" stroke="#d2207d" stroke-width="56"/>
<path d="M1068 913 L1073 909 L1078 904 L1082 897 L1086 890 L1089 881 L1092 871 L1095 862 L1098 852 L1102 842 L1105 834 L1109 826 L1113 819 L1118 814 L1123 811 L1128 809" stroke="#6e0d44" stroke-width="73.60000000000001"/>
<path d="M1068 913 L1073 909 L1078 904 L1082 897 L1086 890 L1089 881 L1092 871 L1095 862 L1098 852 L1102 842 L1105 834 L1109 826 L1113 819 L1118 814 L1123 811 L1128 809" stroke="#8e1257" stroke-width="63.60000000000001"/>
<path d="M1010 890 L1018 896 L1027 902 L1035 907 L1042 911 L1049 913 L1056 915 L1062 914 L1068 913 M1128 809 L1135 808 L1141 810 L1149 812 L1156 816 L1164 821 L1172 827 L1181 833 L1189 839" stroke="#8e1257" stroke-width="80"/>
<path d="M1010 890 L1018 896 L1027 902 L1035 907 L1042 911 L1049 913 L1056 915 L1062 914 L1068 913 M1128 809 L1135 808 L1141 810 L1149 812 L1156 816 L1164 821 L1172 827 L1181 833 L1189 839" stroke="#d2207d" stroke-width="68"/>
<path d="M1068 1044 L1075 1044 L1081 1043 L1088 1040 L1095 1037 L1102 1032 L1109 1026 L1117 1020 L1125 1014 L1132 1008 L1140 1002 L1149 997 L1156 994 L1164 991 L1172 991 L1180 992 L1185 994 M1189 1112 L1192 1116 L1196 1122 L1202 1126 L1208 1130 L1216 1134 L1224 1139 L1233 1143 L1241 1148 L1250 1153 L1258 1158 L1265 1163 L1272 1169 L1277 1174 L1280 1180 L1282 1186 L1283 1192" stroke="#6e0d44" stroke-width="73.60000000000001"/>
<path d="M1068 1044 L1075 1044 L1081 1043 L1088 1040 L1095 1037 L1102 1032 L1109 1026 L1117 1020 L1125 1014 L1132 1008 L1140 1002 L1149 997 L1156 994 L1164 991 L1172 991 L1180 992 L1185 994 M1189 1112 L1192 1116 L1196 1122 L1202 1126 L1208 1130 L1216 1134 L1224 1139 L1233 1143 L1241 1148 L1250 1153 L1258 1158 L1265 1163 L1272 1169 L1277 1174 L1280 1180 L1282 1186 L1283 1192" stroke="#8e1257" stroke-width="63.60000000000001"/>
<path d="M1049 1032 L1055 1038 L1062 1042 L1068 1044 M1185 994 L1192 998 L1197 1004 L1202 1012 L1206 1020 L1208 1030 L1208 1040 L1208 1050 L1206 1060 L1203 1069 L1199 1077 L1195 1083 L1192 1091 L1190 1097 L1188 1102 L1188 1108 L1189 1112 M1283 1192 L1281 1198 L1279 1205 L1275 1211 L1270 1218 L1263 1224 L1257 1231 L1249 1238 L1242 1245 L1235 1252 L1229 1259" stroke="#8e1257" stroke-width="80"/>
<path d="M1049 1032 L1055 1038 L1062 1042 L1068 1044 M1185 994 L1192 998 L1197 1004 L1202 1012 L1206 1020 L1208 1030 L1208 1040 L1208 1050 L1206 1060 L1203 1069 L1199 1077 L1195 1083 L1192 1091 L1190 1097 L1188 1102 L1188 1108 L1189 1112 M1283 1192 L1281 1198 L1279 1205 L1275 1211 L1270 1218 L1263 1224 L1257 1231 L1249 1238 L1242 1245 L1235 1252 L1229 1259" stroke="#d2207d" stroke-width="68"/>
<path d="M479 863 L484 866 L490 868 L497 869 L505 869 L513 868 L522 866 L532 865 L542 863 L553 862 L563 862 L573 863 L582 866 L591 870 L599 877 L604 886 L608 902 M491 967 L488 974" stroke="#6e0d44" stroke-width="77.28"/>
<path d="M479 863 L484 866 L490 868 L497 869 L505 869 L513 868 L522 866 L532 865 L542 863 L553 862 L563 862 L573 863 L582 866 L591 870 L599 877 L604 886 L608 902 M491 967 L488 974" stroke="#8e1257" stroke-width="67.28"/>
<path d="M470 800 L469 810 L468 820 L468 830 L469 839 L470 847 L472 853 L475 859 L479 863 M608 902 L607 913 L603 922 L597 930 L588 938 L580 942 L570 945 L560 947 L550 949 L540 949 L530 950 L521 951 L513 952 L506 954 L500 957 L495 961 L491 967" stroke="#8e1257" stroke-width="84"/>
<path d="M470 800 L469 810 L468 820 L468 830 L469 839 L470 847 L472 853 L475 859 L479 863 M608 902 L607 913 L603 922 L597 930 L588 938 L580 942 L570 945 L560 947 L550 949 L540 949 L530 950 L521 951 L513 952 L506 954 L500 957 L495 961 L491 967" stroke="#d2207d" stroke-width="72"/>
<path d="M396 1042 L398 1048 L403 1054 L409 1059 L416 1064 L424 1068 L433 1073 L442 1077 L451 1081 L461 1085 L469 1089 L477 1093 L484 1096 L490 1099 L494 1102 L496 1105 L497 1108 M564 1142 L567 1137 L569 1131 L571 1123 L572 1115 L572 1107 L574 1097 L576 1087 L578 1077 L579 1067 L580 1058 L582 1050 L585 1042 L588 1036 L592 1031 L597 1027 M674 1073 L675 1073 L677 1070 L683 1072 L690 1076 L698 1078 L706 1081 L715 1085 L725 1089 L734 1094 L743 1098 L751 1104 L757 1109 L763 1115 L767 1120 L770 1127 L770 1133" stroke="#6e0d44" stroke-width="77.28"/>
<path d="M396 1042 L398 1048 L403 1054 L409 1059 L416 1064 L424 1068 L433 1073 L442 1077 L451 1081 L461 1085 L469 1089 L477 1093 L484 1096 L490 1099 L494 1102 L496 1105 L497 1108 M564 1142 L567 1137 L569 1131 L571 1123 L572 1115 L572 1107 L574 1097 L576 1087 L578 1077 L579 1067 L580 1058 L582 1050 L585 1042 L588 1036 L592 1031 L597 1027 M674 1073 L675 1073 L677 1070 L683 1072 L690 1076 L698 1078 L706 1081 L715 1085 L725 1089 L734 1094 L743 1098 L751 1104 L757 1109 L763 1115 L767 1120 L770 1127 L770 1133" stroke="#8e1257" stroke-width="67.28"/>
<path d="M410 1005 L405 1012 L400 1018 L397 1024 L395 1030 L394 1037 L396 1042 M497 1108 L496 1111 L490 1110 L486 1114 L481 1118 L481 1125 L487 1132 L495 1138 L504 1142 L514 1146 L524 1148 L533 1150 L541 1150 L548 1150 L555 1148 L560 1145 L564 1142 M597 1027 L603 1025 L610 1024 L618 1025 L626 1027 L635 1030 L644 1034 L653 1039 L662 1044 L670 1050 L677 1056 L683 1062 L685 1068 L686 1073 L686 1076 L676 1074 L674 1073 M770 1133 L769 1139 L767 1145 L763 1152 L758 1158 L752 1165 L745 1172 L737 1179 L730 1186" stroke="#8e1257" stroke-width="84"/>
<path d="M410 1005 L405 1012 L400 1018 L397 1024 L395 1030 L394 1037 L396 1042 M497 1108 L496 1111 L490 1110 L486 1114 L481 1118 L481 1125 L487 1132 L495 1138 L504 1142 L514 1146 L524 1148 L533 1150 L541 1150 L548 1150 L555 1148 L560 1145 L564 1142 M597 1027 L603 1025 L610 1024 L618 1025 L626 1027 L635 1030 L644 1034 L653 1039 L662 1044 L670 1050 L677 1056 L683 1062 L685 1068 L686 1073 L686 1076 L676 1074 L674 1073 M770 1133 L769 1139 L767 1145 L763 1152 L758 1158 L752 1165 L745 1172 L737 1179 L730 1186" stroke="#d2207d" stroke-width="72"/>
<path d="M437 1360 L442 1364 L449 1366 L456 1367 L465 1367 L474 1366 L483 1365 L493 1363 L504 1361 L514 1358 L523 1356 L533 1353 L541 1351 L549 1350 L556 1350 L562 1350 L567 1351 L571 1353 M630 1474 L637 1475 L644 1473 L651 1471 L658 1467 L665 1462 L673 1456 L681 1449 L688 1442 L696 1435 L703 1428 L710 1422 L718 1416 L725 1411 L731 1408 L738 1405 L744 1404 L750 1405 M837 1510 L843 1510 L850 1508 L856 1505 L863 1500 L869 1495 L876 1488 L883 1481 L890 1473 L897 1466 L904 1458 L910 1451 L917 1444 L924 1439 L930 1435 L936 1431 L943 1430 L949 1430" stroke="#6e0d44" stroke-width="79.12"/>
<path d="M437 1360 L442 1364 L449 1366 L456 1367 L465 1367 L474 1366 L483 1365 L493 1363 L504 1361 L514 1358 L523 1356 L533 1353 L541 1351 L549 1350 L556 1350 L562 1350 L567 1351 L571 1353 M630 1474 L637 1475 L644 1473 L651 1471 L658 1467 L665 1462 L673 1456 L681 1449 L688 1442 L696 1435 L703 1428 L710 1422 L718 1416 L725 1411 L731 1408 L738 1405 L744 1404 L750 1405 M837 1510 L843 1510 L850 1508 L856 1505 L863 1500 L869 1495 L876 1488 L883 1481 L890 1473 L897 1466 L904 1458 L910 1451 L917 1444 L924 1439 L930 1435 L936 1431 L943 1430 L949 1430" stroke="#8e1257" stroke-width="69.12"/>
<path d="M430 1290 L429 1300 L427 1310 L426 1320 L426 1328 L426 1337 L427 1344 L429 1351 L432 1356 L437 1360 M571 1353 L575 1357 L577 1362 L580 1368 L582 1375 L584 1383 L586 1393 L588 1402 L591 1412 L593 1422 L597 1432 L600 1441 L604 1450 L608 1457 L613 1464 L619 1469 L624 1472 L630 1474 M750 1405 L755 1407 L760 1411 L765 1416 L770 1422 L775 1429 L780 1437 L785 1446 L789 1455 L794 1464 L799 1473 L804 1482 L809 1489 L814 1496 L820 1502 L825 1506 L831 1509 L837 1510 M949 1430 L955 1431 L960 1434 L966 1439 L971 1444 L977 1451 L982 1459" stroke="#8e1257" stroke-width="86"/>
<path d="M430 1290 L429 1300 L427 1310 L426 1320 L426 1328 L426 1337 L427 1344 L429 1351 L432 1356 L437 1360 M571 1353 L575 1357 L577 1362 L580 1368 L582 1375 L584 1383 L586 1393 L588 1402 L591 1412 L593 1422 L597 1432 L600 1441 L604 1450 L608 1457 L613 1464 L619 1469 L624 1472 L630 1474 M750 1405 L755 1407 L760 1411 L765 1416 L770 1422 L775 1429 L780 1437 L785 1446 L789 1455 L794 1464 L799 1473 L804 1482 L809 1489 L814 1496 L820 1502 L825 1506 L831 1509 L837 1510 M949 1430 L955 1431 L960 1434 L966 1439 L971 1444 L977 1451 L982 1459" stroke="#d2207d" stroke-width="74"/>
<path d="M1082 1384 L1087 1388 L1093 1390 L1099 1392 L1106 1394 L1114 1395 L1122 1396 L1130 1397 L1138 1399 L1146 1401 L1154 1404 L1162 1408 L1168 1413 L1173 1420 L1177 1428 L1178 1438 M1080 1491 L1077 1496 L1074 1502 L1072 1509 L1071 1516 L1070 1524 L1069 1532" stroke="#6e0d44" stroke-width="58.88"/>
<path d="M1082 1384 L1087 1388 L1093 1390 L1099 1392 L1106 1394 L1114 1395 L1122 1396 L1130 1397 L1138 1399 L1146 1401 L1154 1404 L1162 1408 L1168 1413 L1173 1420 L1177 1428 L1178 1438 M1080 1491 L1077 1496 L1074 1502 L1072 1509 L1071 1516 L1070 1524 L1069 1532" stroke="#8e1257" stroke-width="48.88"/>
<path d="M1070 1330 L1069 1338 L1069 1347 L1070 1355 L1071 1362 L1073 1369 L1075 1375 L1078 1380 L1082 1384 M1178 1438 L1175 1451 L1171 1459 L1165 1466 L1157 1470 L1149 1474 L1141 1476 L1133 1477 L1124 1478 L1116 1479 L1109 1480 L1102 1481 L1095 1482 L1090 1485 L1085 1488 L1080 1491" stroke="#8e1257" stroke-width="64"/>
<path d="M1070 1330 L1069 1338 L1069 1347 L1070 1355 L1071 1362 L1073 1369 L1075 1375 L1078 1380 L1082 1384 M1178 1438 L1175 1451 L1171 1459 L1165 1466 L1157 1470 L1149 1474 L1141 1476 L1133 1477 L1124 1478 L1116 1479 L1109 1480 L1102 1481 L1095 1482 L1090 1485 L1085 1488 L1080 1491" stroke="#d2207d" stroke-width="52"/>
<path d="M1050 698 L1051 704 L1054 710 L1058 716 L1062 722 L1068 728 L1074 734 L1080 740 L1086 746 L1092 752 L1098 758 L1102 764 L1106 770 L1109 776 L1110 782 L1110 788" stroke="#6e0d44" stroke-width="58.88"/>
<path d="M1050 698 L1051 704 L1054 710 L1058 716 L1062 722 L1068 728 L1074 734 L1080 740 L1086 746 L1092 752 L1098 758 L1102 764 L1106 770 L1109 776 L1110 782 L1110 788" stroke="#8e1257" stroke-width="48.88"/>
<path d="M1080 650 L1074 656 L1068 662 L1062 668 L1058 674 L1054 680 L1051 686 L1050 692 L1050 698 M1110 788 L1109 794 L1106 800 L1102 806 L1098 812 L1092 818 L1086 824 L1080 830" stroke="#8e1257" stroke-width="64"/>
<path d="M1080 650 L1074 656 L1068 662 L1062 668 L1058 674 L1054 680 L1051 686 L1050 692 L1050 698 M1110 788 L1109 794 L1106 800 L1102 806 L1098 812 L1092 818 L1086 824 L1080 830" stroke="#d2207d" stroke-width="52"/>
<circle cx="1325" cy="1395" r="235" stroke="#2b2b2b" stroke-width="22" stroke-dasharray="19 19.5" stroke-linecap="butt" fill="none"/>
</g>
<g transform="translate(560,2190) scale(0.17564)" fill="none" stroke-linecap="round" stroke-linejoin="round">
<path d="M820 100 C880 80 940 100 980 150 S1000 260 1040 300 S1060 400 1020 450" stroke="#5a0e36" stroke-width="16.5"/>
<path d="M1000 160 C1080 200 1160 140 1240 130 S1360 180 1400 260 S1380 340 1320 380 S1260 420 1250 450" stroke="#5a0e36" stroke-width="16.5"/>
<path d="M1230 250 C1210 300 1230 350 1250 430 S1300 500 1360 530 S1440 520 1480 480" stroke="#5a0e36" stroke-width="16.5"/>
<path d="M1380 0 C1440 40 1460 100 1420 160 S1340 240 1280 240 S1230 240 1230 260" stroke="#5a0e36" stroke-width="16.5"/>
<path d="M900 330 C920 290 960 300 990 340 S1040 400 1040 440" stroke="#5a0e36" stroke-width="16.5"/>
<path d="M900 330 C880 380 870 420 860 470" stroke="#5a0e36" stroke-width="16.5"/>
<path d="M560 450 C460 490 380 520 340 580 S320 660 380 700" stroke="#5a0e36" stroke-width="16.5"/>
<path d="M400 520 C380 580 400 640 440 680" stroke="#5a0e36" stroke-width="16.5"/>
<path d="M340 740 C260 780 180 790 150 830 S170 920 240 950" stroke="#5a0e36" stroke-width="16.5"/>
<path d="M240 1110 C180 1120 150 1160 160 1200 S220 1260 300 1300" stroke="#5a0e36" stroke-width="16.5"/>
<path d="M520 1150 C440 1150 380 1160 340 1200 S320 1280 300 1300" stroke="#5a0e36" stroke-width="16.5"/>
<path d="M540 1210 C480 1230 440 1260 420 1310 S340 1320 300 1310" stroke="#5a0e36" stroke-width="16.5"/>
<path d="M210 1280 C280 1330 360 1380 440 1360 S520 1300 560 1280" stroke="#5a0e36" stroke-width="16.5"/>
<path d="M560 1280 C550 1340 540 1400 500 1480" stroke="#5a0e36" stroke-width="16.5"/>
<path d="M660 1330 C620 1380 590 1420 580 1480" stroke="#5a0e36" stroke-width="16.5"/>
<path d="M1220 960 C1280 900 1340 860 1400 830" stroke="#5a0e36" stroke-width="16.5"/>
<path d="M620 1230 C700 1200 800 1100 860 1040" stroke="#5a0e36" stroke-width="16.5"/>
<path d="M820 100 C800 130 800 150 810 170" stroke="#5a0e36" stroke-width="16.5"/>
<path d="M1480 480 L1390 830" stroke="#7a1049" stroke-width="14" stroke-dasharray="10 10" stroke-linecap="butt"/>
<path d="M600 20 C620 100 700 130 760 80 S800 20 800 0" stroke="#8e1257" stroke-width="60"/>
<path d="M600 20 C620 100 700 130 760 80 S800 20 800 0" stroke="#d2207d" stroke-width="48"/>
<path d="M380 0 L500 0 L480 40 L400 50 Z" fill="#d2207d" stroke="#8e1257" stroke-width="8"/>
<path d="M880 60 L940 0 L1000 0 L940 80 Z" fill="#d2207d" stroke="#8e1257" stroke-width="8"/>
<path d="M960 460 L1050 480 C1000 600 920 720 820 820 L700 940 L640 900 C760 800 880 640 960 460 Z" fill="#8e1257" stroke="#6e0d44" stroke-width="8"/>
<path d="M800 300 L860 380 L840 420 L760 440 C700 470 650 500 620 520 L590 480 C660 440 740 400 780 360 Z" fill="#8e1257" stroke="#6e0d44" stroke-width="8"/>
<path d="M780 160 L830 140 L810 260 C760 360 680 420 600 470 L560 440 C640 380 720 300 760 220 Z" fill="#d2207d" stroke="#8e1257" stroke-width="8"/>
<path d="M230 910 L270 980 C400 920 520 820 620 720 S780 560 850 470 L800 430 C720 520 620 620 520 700 S340 860 230 910 Z" fill="#d2207d" stroke="#8e1257" stroke-width="8"/>
<path d="M320 610 L380 600 C400 660 440 690 520 680 S700 620 810 560 L820 620 C720 680 600 730 500 740 S340 700 320 610 Z" fill="#8e1257" stroke="#6e0d44" stroke-width="8"/>
<path d="M520 1130 L540 1200 C680 1160 800 1060 900 940 S1020 760 1060 700 L1040 640 C960 760 880 860 780 960 S620 1100 520 1130 Z" fill="#d2207d" stroke="#8e1257" stroke-width="8"/>
<path d="M540 1240 L600 1280 C720 1200 840 1100 940 980 S1060 840 1100 820 L1060 780 C980 860 900 960 800 1060 S640 1200 540 1240 Z" fill="#8e1257" stroke="#6e0d44" stroke-width="8"/>
<path d="M230 1110 L330 1030 C500 960 650 860 800 740 S1000 580 1100 530 L1130 560 C1050 640 950 720 850 800 S600 1000 340 1130 L260 1140 Z" fill="#d2207d" stroke="#8e1257" stroke-width="8"/>
<path d="M1130 540 L1200 520 L1200 620 L1160 740 L1120 620 Z" fill="#d2207d" stroke="#8e1257" stroke-width="8"/>
<path d="M1050 800 L1110 820 L1090 870 L1030 850 Z" fill="#d2207d" stroke="#8e1257" stroke-width="8"/>
<path d="M650 1300 L670 1360 C800 1320 920 1250 1020 1170 S1140 1060 1180 1080 L1220 960 L1100 990 L1120 1020 C1040 1100 940 1170 840 1220 S720 1290 650 1300 Z" fill="#e33a93" stroke="#d2207d" stroke-width="8"/>
<path d="M520 1130 L540 1200 C620 1180 700 1140 760 1100 L730 1050 C660 1090 590 1115 520 1130 Z" fill="#e33a93" stroke="#d2207d" stroke-width="8"/>
<path d="M210 1270 L300 1290 L290 1320 L220 1310 Z" fill="#d2207d" stroke="#8e1257" stroke-width="8"/>
<path d="M530 1210 L620 1220 L570 1340 L530 1330 Z" fill="#8e1257" stroke="#6e0d44" stroke-width="8"/>
</g>
<g transform="translate(510,2420) scale(0.15222)" fill="none" stroke-linecap="round" stroke-linejoin="round">
<path d="M960 0 C980 60 960 120 900 170 S820 220 860 290 S960 360 940 420 S880 480 870 560 S900 700 940 820 S960 940 930 1020" stroke="#5a0e36" stroke-width="19.1"/>
<path d="M1040 30 C1000 100 980 200 970 300 S940 440 1000 500 S1140 520 1160 600 S1130 720 1180 800 S1300 880 1360 910 S1330 1000 1300 1040 S1400 1100 1460 1140 S1500 1240 1480 1300 S1380 1330 1310 1300" stroke="#5a0e36" stroke-width="19.1"/>
<path d="M1310 1300 C1280 1380 1240 1400 1200 1340 S1100 1230 1020 1250 S960 1300 980 1400" stroke="#5a0e36" stroke-width="19.1"/>
<path d="M720 30 C760 70 820 80 860 50" stroke="#5a0e36" stroke-width="19.1"/>
<path d="M380 460 L270 440 L290 490 L140 460 L200 540 C300 580 380 600 440 640" stroke="#5a0e36" stroke-width="19.1"/>
<path d="M340 1000 C280 1040 240 1100 220 1180 S160 1300 170 1360 S280 1420 370 1430 S440 1350 500 1290" stroke="#5a0e36" stroke-width="19.1"/>
<path d="M600 1180 C640 1240 680 1300 740 1360 S860 1330 900 1270 S930 1200 920 1150" stroke="#5a0e36" stroke-width="19.1"/>
<path d="M740 1360 C700 1300 660 1280 600 1270" stroke="#5a0e36" stroke-width="19.1"/>
<path d="M920 1150 L740 1190 L700 1300" stroke="#5a0e36" stroke-width="19.1"/>
<path d="M1000 1010 C1040 1060 1060 1120 1040 1170 S990 1260 990 1300" stroke="#5a0e36" stroke-width="19.1"/>
<path d="M640 1060 C700 1020 740 960 760 900" stroke="#5a0e36" stroke-width="19.1"/>
<path d="M780 820 C820 820 850 840 860 880" stroke="#5a0e36" stroke-width="19.1"/>
<path d="M520 1280 C560 1300 620 1310 650 1290" stroke="#5a0e36" stroke-width="19.1"/>
<path d="M980 830 L1090 850 L1110 1010 L1040 1030 L960 1000 Z" fill="#8e1257" stroke="#6e0d44" stroke-width="8"/>
<path d="M540 600 L600 560 L680 660 C720 760 800 860 900 940 L910 1000 L840 1020 C760 940 680 820 620 700 Z" fill="#d2207d" stroke="#8e1257" stroke-width="8"/>
<path d="M840 780 L870 640 L960 760 L920 770 L960 960 L900 980 L880 780 Z" fill="#e33a93" stroke="#d2207d" stroke-width="8"/>
<path d="M800 940 L900 960 L920 1040 L840 1050 Z" fill="#8e1257" stroke="#6e0d44" stroke-width="8"/>
<path d="M820 1180 L860 1150 L920 1160 L900 1200 L840 1210 Z" fill="#d2207d" stroke="#8e1257" stroke-width="8"/>
<path d="M1290 1290 L1340 1270 L1330 1310 Z" fill="#d2207d" stroke="#8e1257" stroke-width="6"/>
<path d="M451 329 L456 327 L462 323 L467 317 L471 311 L476 304 L481 296 L485 288 L490 279 L495 271 L500 263 L505 256 L510 249 L516 244 L522 240 L528 237 L535 235 L541 236 M588 325 L591 328 L594 331 L599 334 L605 337 L612 341 L619 346 L627 351 L635 356 L643 362 L650 368 L657 374 L663 381 L667 388 L671 394 L673 402 L673 409 L671 416 M545 449 L541 454 L538 461 L535 468 L532 476 L530 486" stroke="#6e0d44" stroke-width="69.92"/>
<path d="M451 329 L456 327 L462 323 L467 317 L471 311 L476 304 L481 296 L485 288 L490 279 L495 271 L500 263 L505 256 L510 249 L516 244 L522 240 L528 237 L535 235 L541 236 M588 325 L591 328 L594 331 L599 334 L605 337 L612 341 L619 346 L627 351 L635 356 L643 362 L650 368 L657 374 L663 381 L667 388 L671 394 L673 402 L673 409 L671 416 M545 449 L541 454 L538 461 L535 468 L532 476 L530 486" stroke="#8e1257" stroke-width="59.92"/>
<path d="M390 300 L397 307 L404 313 L412 318 L419 323 L426 327 L432 329 L439 331 L445 331 L451 329 M541 236 L548 237 L555 240 L561 245 L569 251 L575 257 L581 265 L586 273 L590 282 L593 290 L593 298 L592 305 L590 311 L589 316 L587 319 L587 323 L588 325 M671 416 L668 425 L663 433 L655 440 L647 445 L637 448 L627 450 L617 450 L608 449 L598 447 L590 445 L581 444 L574 442 L567 442 L560 442 L554 443 L549 446 L545 449" stroke="#8e1257" stroke-width="76"/>
<path d="M390 300 L397 307 L404 313 L412 318 L419 323 L426 327 L432 329 L439 331 L445 331 L451 329 M541 236 L548 237 L555 240 L561 245 L569 251 L575 257 L581 265 L586 273 L590 282 L593 290 L593 298 L592 305 L590 311 L589 316 L587 319 L587 323 L588 325 M671 416 L668 425 L663 433 L655 440 L647 445 L637 448 L627 450 L617 450 L608 449 L598 447 L590 445 L581 444 L574 442 L567 442 L560 442 L554 443 L549 446 L545 449" stroke="#d2207d" stroke-width="64"/>
<path d="M607 528 L612 525 L617 521 L622 515 L626 508 L629 501 L633 493 L637 484 L640 475 L644 467 L648 458 L653 450 L657 443 L662 436 L667 431 L674 427 L681 425 L689 424 M724 525 L727 531 L731 535 L737 539 L743 544 L750 549 L758 554 L766 559 L774 565 L782 570 L789 576 L796 581 L801 587 L806 593 L809 599 L811 605 L812 611" stroke="#6e0d44" stroke-width="69.92"/>
<path d="M607 528 L612 525 L617 521 L622 515 L626 508 L629 501 L633 493 L637 484 L640 475 L644 467 L648 458 L653 450 L657 443 L662 436 L667 431 L674 427 L681 425 L689 424 M724 525 L727 531 L731 535 L737 539 L743 544 L750 549 L758 554 L766 559 L774 565 L782 570 L789 576 L796 581 L801 587 L806 593 L809 599 L811 605 L812 611" stroke="#8e1257" stroke-width="59.92"/>
<path d="M564 519 L572 523 L580 527 L588 529 L595 530 L601 529 L607 528 M689 424 L695 425 L703 427 L712 432 L720 437 L725 444 L731 453 L736 462 L738 472 L737 481 L734 489 L731 495 L727 501 L724 506 L722 511 L722 517 L722 521 L724 525 M812 611 L811 617 L808 623 L805 629 L800 635 L795 642 L788 648 L782 654" stroke="#8e1257" stroke-width="76"/>
<path d="M564 519 L572 523 L580 527 L588 529 L595 530 L601 529 L607 528 M689 424 L695 425 L703 427 L712 432 L720 437 L725 444 L731 453 L736 462 L738 472 L737 481 L734 489 L731 495 L727 501 L724 506 L722 511 L722 517 L722 521 L724 525 M812 611 L811 617 L808 623 L805 629 L800 635 L795 642 L788 648 L782 654" stroke="#d2207d" stroke-width="64"/>
<path d="M471 746 L477 747 L483 748 L489 748 L496 747 L504 745 L512 744 L520 742 L529 740 L538 740 L547 740 L556 742 L566 750 L573 760 L574 782 L570 795 L561 806 L554 811 M434 800 L429 804 L424 808 L420 814 L416 821 L413 829 L411 837 L409 845 L407 854 L407 863 L407 871 L406 879 L406 887 L405 894 L403 900 L401 906 L398 910 L394 914 M388 984 L394 981 L400 977 L406 972 L411 967 L416 960 L421 953 L425 946 L430 938 L435 931 L440 924 L445 918 L450 913 L456 908 L462 905 L468 902 L475 901 M539 986 L543 990 L547 993 L553 995 L559 998 L566 1000 L574 1004 L581 1007 L589 1011 L597 1015 L604 1019 L611 1024 L617 1030 L622 1037 L626 1044 L628 1051 L629 1057 L628 1065 M521 1104 L517 1107 L513 1112 L509 1117 L506 1123 L502 1131 L499 1138 L497 1146 L494 1155 L491 1163 L489 1171 L486 1179 L484 1186 L481 1192 L478 1198 L475 1203 L472 1206 L469 1208 M448 1284 L452 1287" stroke="#6e0d44" stroke-width="73.60000000000001"/>
<path d="M471 746 L477 747 L483 748 L489 748 L496 747 L504 745 L512 744 L520 742 L529 740 L538 740 L547 740 L556 742 L566 750 L573 760 L574 782 L570 795 L561 806 L554 811 M434 800 L429 804 L424 808 L420 814 L416 821 L413 829 L411 837 L409 845 L407 854 L407 863 L407 871 L406 879 L406 887 L405 894 L403 900 L401 906 L398 910 L394 914 M388 984 L394 981 L400 977 L406 972 L411 967 L416 960 L421 953 L425 946 L430 938 L435 931 L440 924 L445 918 L450 913 L456 908 L462 905 L468 902 L475 901 M539 986 L543 990 L547 993 L553 995 L559 998 L566 1000 L574 1004 L581 1007 L589 1011 L597 1015 L604 1019 L611 1024 L617 1030 L622 1037 L626 1044 L628 1051 L629 1057 L628 1065 M521 1104 L517 1107 L513 1112 L509 1117 L506 1123 L502 1131 L499 1138 L497 1146 L494 1155 L491 1163 L489 1171 L486 1179 L484 1186 L481 1192 L478 1198 L475 1203 L472 1206 L469 1208 M448 1284 L452 1287" stroke="#8e1257" stroke-width="63.60000000000001"/>
<path d="M440 690 L442 699 L444 707 L447 715 L450 723 L453 729 L457 735 L461 739 L466 743 L471 746 M554 811 L546 815 L539 816 L532 816 L523 816 L515 814 L507 812 L498 809 L490 806 L482 803 L474 800 L466 798 L459 796 L452 796 L446 796 L439 797 L434 800 M394 914 L390 917 L385 920 L379 922 L372 923 L365 924 L357 926 L350 929 L342 932 L335 939 L332 951 L337 965 L349 976 L358 981 L367 984 L374 985 L382 985 L388 984 M475 901 L481 902 L488 903 L494 906 L502 910 L509 915 L515 921 L521 928 L526 935 L530 943 L532 950 L533 957 L533 963 L533 969 L533 974 L534 979 L536 982 L539 986 M628 1065 L626 1073 L622 1081 L617 1088 L610 1094 L601 1100 L592 1103 L583 1104 L574 1104 L566 1103 L558 1102 L550 1101 L544 1100 L538 1099 L532 1100 L526 1101 L521 1104 M469 1208 L466 1209 L466 1204 L462 1204 L458 1202 L453 1206 L448 1210 L444 1218 L441 1226 L439 1235 L438 1244 L438 1252 L439 1261 L440 1268 L442 1275 L445 1280 L448 1284" stroke="#8e1257" stroke-width="80"/>
<path d="M440 690 L442 699 L444 707 L447 715 L450 723 L453 729 L457 735 L461 739 L466 743 L471 746 M554 811 L546 815 L539 816 L532 816 L523 816 L515 814 L507 812 L498 809 L490 806 L482 803 L474 800 L466 798 L459 796 L452 796 L446 796 L439 797 L434 800 M394 914 L390 917 L385 920 L379 922 L372 923 L365 924 L357 926 L350 929 L342 932 L335 939 L332 951 L337 965 L349 976 L358 981 L367 984 L374 985 L382 985 L388 984 M475 901 L481 902 L488 903 L494 906 L502 910 L509 915 L515 921 L521 928 L526 935 L530 943 L532 950 L533 957 L533 963 L533 969 L533 974 L534 979 L536 982 L539 986 M628 1065 L626 1073 L622 1081 L617 1088 L610 1094 L601 1100 L592 1103 L583 1104 L574 1104 L566 1103 L558 1102 L550 1101 L544 1100 L538 1099 L532 1100 L526 1101 L521 1104 M469 1208 L466 1209 L466 1204 L462 1204 L458 1202 L453 1206 L448 1210 L444 1218 L441 1226 L439 1235 L438 1244 L438 1252 L439 1261 L440 1268 L442 1275 L445 1280 L448 1284" stroke="#d2207d" stroke-width="68"/>
</g>
<g transform="translate(1040,1940) scale(0.32787)" fill="none" stroke-linecap="round" stroke-linejoin="round">

<defs>
<clipPath id="insetclip"><rect x="38" y="33" width="1638" height="1373"/></clipPath>
<linearGradient id="fadeTop" x1="0" y1="0" x2="0" y2="1"><stop offset="0" stop-color="#dc2686" stop-opacity="0.2"/><stop offset="0.06" stop-color="#c01e75"/><stop offset="0.3" stop-color="#dc2686"/><stop offset="1" stop-color="#dc2686"/></linearGradient>
<linearGradient id="s1g" x1="0" y1="0" x2="0.6" y2="1"><stop offset="0" stop-color="#a81c6a"/><stop offset="0.6" stop-color="#bd1f74"/><stop offset="0.93" stop-color="#dc2686"/><stop offset="1" stop-color="#e070ab"/></linearGradient>
<linearGradient id="tailg" x1="0" y1="0" x2="1" y2="1"><stop offset="0" stop-color="#dc2686"/><stop offset="1" stop-color="#dc2686" stop-opacity="0"/></linearGradient>
</defs>
<g clip-path="url(#insetclip)" stroke-linejoin="round" stroke-linecap="round">
 <!-- left cylinder -->
 <path d="M30 30 L165 30 L165 120 L30 120 Z" fill="#a51c68"/>
 <path d="M30 90 L150 100 L162 185 C165 270 150 350 100 400 L30 415 Z" fill="#661139"/>
 <ellipse cx="70" cy="165" rx="92" ry="40" fill="#db2887"/>
 <!-- left loop -->
 <path d="M30 570 C80 650 110 760 95 850 S60 910 30 930" stroke="#7c1250" stroke-width="34" fill="none"/>
 <path d="M30 570 C80 650 110 760 95 850 S60 910 30 930" stroke="#dc2686" stroke-width="24" fill="none"/>
 <!-- strand 1 -->
 <path d="M610 880 C630 930 650 960 700 972" stroke="url(#tailg)" stroke-width="24" fill="none"/>
 <path d="M40 33 L175 33 C220 180 318 335 438 472 S632 735 668 848 L578 896 C540 820 480 760 420 690 S240 470 160 300 C120 220 80 120 40 33 Z" fill="url(#s1g)"/>
 <path d="M578 896 L668 848" stroke="#f3b5d4" stroke-width="6" fill="none" opacity="0.7"/>
 <!-- strand 2 -->
 <path d="M302 33 L445 33 C525 170 645 328 785 466 S982 698 1052 762 L985 885 C898 802 795 704 693 594 S412 252 302 33 Z" fill="url(#fadeTop)"/>
 <path d="M1050 765 L985 885" stroke="#a01a66" stroke-width="5" fill="none"/>
 <!-- strand 3 -->
 <path d="M652 33 L855 33 C925 128 1024 238 1134 347 L1242 433 L1165 582 C1047 503 946 403 845 293 S712 132 652 33 Z" fill="url(#fadeTop)"/>
 <path d="M1240 435 L1165 580 L1140 565 L1215 420 Z" fill="#c41e76"/>
 <!-- top right bands -->
 <path d="M1040 33 L1510 33 L1440 195 L1300 130 L1230 130 C1180 100 1100 60 1040 33 Z" fill="#dc2686"/>
 <path d="M1400 33 L1510 33 L1440 195 L1390 170 Z" fill="#a01a66"/>
 <path d="M1250 140 C1300 130 1380 160 1400 200 L1330 240 C1300 200 1270 170 1250 140 Z" fill="#7c1250" opacity="0.8"/>
 <path d="M1300 85 L1680 150 L1680 195 L1560 172 L1300 112 Z" fill="#dc2686"/>
 <!-- gray cut surfaces -->
 <path d="M1160 365 C1250 380 1380 345 1422 295 L1412 335 C1350 372 1250 392 1170 380 Z" fill="#a01a66"/>
 <path d="M1125 345 C1200 310 1330 280 1410 238 L1422 292 C1380 332 1250 372 1160 366 Z" fill="#565656"/>
 <path d="M1465 215 C1500 190 1580 170 1622 164 L1600 200 C1560 222 1500 232 1470 226 Z" fill="#565656"/>
 <!-- tubes -->
 <path d="M1160 640 C1220 680 1300 720 1300 800 S1250 960 1200 990 S1150 950 1120 900" stroke="#7c1250" stroke-width="32" fill="none"/>
 <path d="M1160 640 C1220 680 1300 720 1300 800 S1250 960 1200 990 S1150 950 1120 900" stroke="#c01e74" stroke-width="22" fill="none"/>
 <path d="M1190 500 C1260 520 1295 570 1290 650 S1260 860 1150 925 S960 900 895 940" stroke="#7c1250" stroke-width="36" fill="none"/>
 <path d="M1190 500 C1260 520 1295 570 1290 650 S1260 860 1150 925 S960 900 895 940" stroke="#dc2686" stroke-width="26" fill="none"/>
 <path d="M1020 835 C1080 860 1130 890 1160 930" stroke="#dc2686" stroke-width="22" fill="none"/>
 <ellipse cx="892" cy="948" rx="24" ry="28" fill="#565656"/>
 <!-- bottom loop -->
 <path d="M240 1410 C250 1300 320 1150 420 1110 S520 1160 600 1260 S720 1350 810 1405" stroke="#7c1250" stroke-width="34" fill="none"/>
 <path d="M240 1410 C250 1300 320 1150 420 1110 S520 1160 600 1260 S720 1350 810 1405" stroke="#dc2686" stroke-width="24" fill="none"/>
 <!-- residue T256 ball and stick -->
 <path d="M710 660 L860 675 L850 770 M860 675 L915 600 M850 770 L795 815 M850 770 L960 795" stroke="#c9287f" stroke-width="24" fill="none"/>
 <path d="M890 780 L960 795" stroke="#3b5bc0" stroke-width="24" fill="none"/>
 <path d="M850 770 L795 815" stroke="#e03a2a" stroke-width="20" fill="none"/>
 <circle cx="712" cy="660" r="32" fill="#cf2c85"/>
 <circle cx="860" cy="675" r="30" fill="#c9287f"/>
 <circle cx="850" cy="770" r="30" fill="#b8237a"/>
 <circle cx="915" cy="600" r="26" fill="#e8291c"/>
 <circle cx="795" cy="818" r="31" fill="#e8291c"/>
 <circle cx="968" cy="797" r="30" fill="#3f60c8"/>
</g>
<rect x="36" y="31" width="1641" height="1376" fill="none" stroke="#2a2a2a" stroke-width="7"/>

</g>
<path d="M808 2101 L1049 1954 M798.7 2235.7 L1049.3 2398.6" stroke="#1a1a1a" stroke-width="2.6" stroke-dasharray="4.8 3.6" fill="none"/>
<text x="5" y="1898.4" fill="#1a1a1a" font-size="54">α</text>
<text transform="translate(37.5,1910) scale(0.962,1)" fill="#1a1a1a" font-size="28.08" >L</text>
<text transform="translate(66.4,1898.4) scale(0.962,1)" fill="#1a1a1a" font-size="53.87" >I-domain</text>
<text x="577.6" y="1890.2" fill="#1a1a1a" font-size="51">β</text>
<text transform="translate(604.6,1901.5) scale(0.962,1)" fill="#1a1a1a" font-size="31.2" >2</text>
<text transform="translate(633.8,1890.2) scale(0.962,1)" fill="#1a1a1a" font-size="53.66" >I-like domain</text>
<text transform="translate(57.2,2232.3) scale(0.962,1)" fill="#1a1a1a" font-size="53.46" >β-propeller</text>
<text transform="translate(771.7,2411) scale(0.962,1)" fill="#1a1a1a" font-size="52.62" >Hybrid</text>
<text transform="translate(458.3,2476.4) scale(0.962,1)" fill="#1a1a1a" font-size="52.31" >PSI</text>
<text transform="translate(725,2591.8) scale(0.962,1)" fill="#1a1a1a" font-size="52.0" >I-EGF1</text>
<text transform="translate(366.5,2703.7) scale(0.962,1)" fill="#1a1a1a" font-size="53.04" >LFA-1 headpiece</text>
<text transform="translate(1292.5,2331.8) scale(0.962,1)" fill="#1a1a1a" font-size="52.0" >T256</text>
</g>
</svg>
</body></html>
